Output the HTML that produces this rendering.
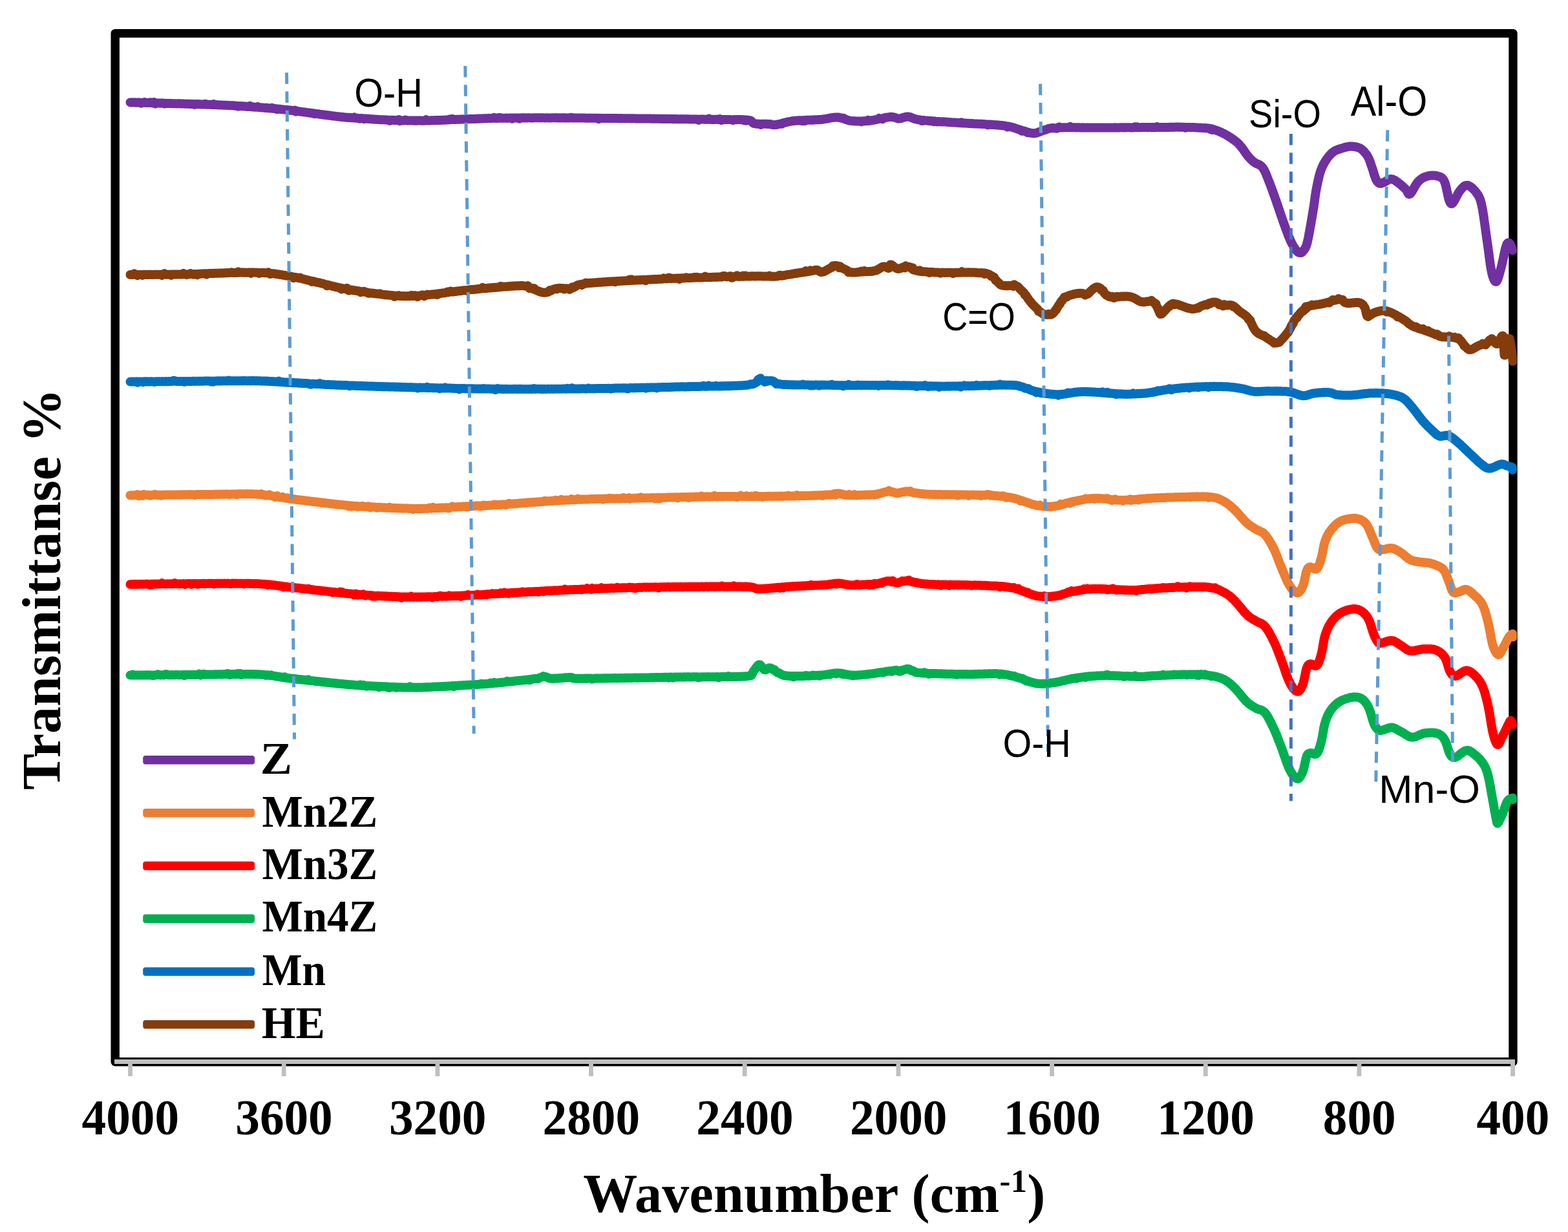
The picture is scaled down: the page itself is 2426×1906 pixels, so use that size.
<!DOCTYPE html>
<html lang="en">
<head>
<meta charset="utf-8">
<title>FTIR spectra</title>
<style>
html,body{margin:0;padding:0;background:#fff;}
body{width:2426px;height:1906px;overflow:hidden;}
svg{display:block;}
text{font-size:100px;fill:#000;}
.tk{font-family:'Liberation Serif','DejaVu Serif',serif;font-weight:bold;text-anchor:middle;}
.ax{font-family:'Liberation Serif','DejaVu Serif',serif;font-weight:bold;}
.lg{font-family:'Liberation Serif','DejaVu Serif',serif;font-weight:bold;}
.an{font-family:'Liberation Sans','DejaVu Sans',sans-serif;}
.cv{fill:none;stroke-width:14;stroke-linecap:round;stroke-linejoin:round;}
.ds{fill:none;stroke:#5b9bd5;stroke-width:5;stroke-dasharray:17.5 11.67;}
</style>
</head>
<body>
<svg width="2426" height="1906" viewBox="0 0 2426 1906">
<rect x="0" y="0" width="2426" height="1906" fill="#fff"/>
<rect x="178.2" y="51.6" width="2162.8" height="1591.2" fill="none" stroke="#000" stroke-width="13.4" stroke-linejoin="round"/>
<g stroke="#bfbfbf" stroke-width="6.8" fill="none">
<path d="M177 1642.5H2344"/>
<path d="M201.5 1642.5V1665M439.2 1642.5V1665M676.9 1642.5V1665M914.5 1642.5V1665M1152.2 1642.5V1665M1389.9 1642.5V1665M1627.6 1642.5V1665M1865.3 1642.5V1665M2102.9 1642.5V1665M2340.6 1642.5V1665"/>
</g>
<g class="tk">
<text transform="matrix(0.7525 0 0 0.775 201.8 1755)">4000</text>
<text transform="matrix(0.7525 0 0 0.775 439.5 1755)">3600</text>
<text transform="matrix(0.7525 0 0 0.775 677.2 1755)">3200</text>
<text transform="matrix(0.7525 0 0 0.775 914.8 1755)">2800</text>
<text transform="matrix(0.7525 0 0 0.775 1152.5 1755)">2400</text>
<text transform="matrix(0.7525 0 0 0.775 1390.2 1755)">2000</text>
<text transform="matrix(0.7525 0 0 0.775 1627.9 1755)">1600</text>
<text transform="matrix(0.7525 0 0 0.775 1865.6 1755)">1200</text>
<text transform="matrix(0.7525 0 0 0.775 2103.2 1755)">800</text>
<text transform="matrix(0.7525 0 0 0.775 2340.9 1755)">400</text>
</g>
<text class="ax" x="902.2" y="1874.5" style="font-size:84px" textLength="715" lengthAdjust="spacing">Wavenumber (cm<tspan style="font-size:50.4px" dy="-30.2">-1</tspan><tspan dy="30.2">)</tspan></text>
<text class="ax" transform="translate(92.6 1222) rotate(-90)" style="font-size:84px" textLength="621" lengthAdjust="spacing">Transmittanse %</text>
<clipPath id="plot"><rect x="0" y="0" width="2346.8" height="1906"/></clipPath>
<g clip-path="url(#plot)">
<path class="cv" stroke="#7030a0" d="M201.5 158.4L202.4 158.4 203.4 158.4 204.4 158.5 205.5 158.6 206.7 158.5 207.9 158.6 209.2 158.5 210.6 158.7 212.1 158.7 213.5 158.6 215.1 158.6 216.7 158.7 218.3 159.7 220 158.8 221.7 158.9 223.5 158 225.3 159.1 227.1 159.1 228.9 159.1 230.8 159.1 232.7 158.3 234.6 159.2 236.6 159.4 238.5 158.1 240.5 160.7 242.5 159.4 244.5 159.6 246.5 159.5 248.5 159.7 250.4 159.6 252.4 159.6 254.4 160.6 256.3 159.8 258.3 159.9 260.2 160 262.1 160 264 160 265.9 160.2 267.7 160.2 269.5 160.2 271.3 160.3 273 160.4 274.7 160.3 276.3 160.3 277.9 160.3 279.5 160.5 281 160.5 283 160.5 284.9 160.6 286.8 160.8 288.7 160.6 290.6 160.8 292.4 160.7 294.2 161 296 161 297.8 161 299.5 160.9 301.2 161.9 303 161.1 304.7 161.2 306.3 161.1 308 161.2 309.7 161.3 311.3 161.4 312.9 161.5 314.6 161.3 316.2 161.5 317.8 160.7 319.4 161.7 321 161.6 322.6 161.7 324.1 161.8 325.7 161.8 327.3 161.9 328.9 161.9 330.5 161 332 162 333.6 162 335.2 162.2 336.8 162.3 338.4 162.4 340 162.4 341.8 162.6 343.5 162.5 345.2 162.7 347 162.8 348.7 162.8 350.4 162.8 352.1 163.1 353.8 163.1 355.5 163.2 357.2 163.2 358.9 163.3 360.6 163.3 362.2 163.5 363.9 163.7 365.6 163.8 367.2 163.8 368.9 164.7 370.5 164.1 372.2 164.1 373.8 164.3 375.5 164.3 377.1 164.5 378.7 164.6 380.4 164.6 382 164.9 383.6 164.8 385.3 165.1 386.9 163.9 388.5 165.2 390.1 165.3 391.8 165.5 393.4 165.6 395.1 165.8 396.8 165.8 398.5 165.1 400.1 166.1 401.7 166.2 403.3 166.3 404.9 166.4 406.4 166.6 408 166.7 409.5 166.9 411.1 166.8 412.6 167 414.2 167 415.7 167.3 417.3 167.4 418.9 167.5 420.5 166.8 422.1 167.8 423.7 168 425.4 168 427 168.3 428.8 169.2 430.5 168.6 432.3 168.7 434.1 169 436 169.2 437.9 169.4 439.9 169.6 441.9 169.8 444 169.9 445.4 170.3 446.8 170.3 448.3 170.5 449.8 170.8 451.4 170.8 452.9 171.1 454.5 171.3 456.2 170.5 457.8 172.8 459.5 171.9 461.2 172.2 462.9 172.4 464.7 172.7 466.4 172.9 468.2 173.1 470 173.4 471.8 173.5 473.6 173.9 475.4 174.1 477.2 174.4 479 174.5 480.8 174.8 482.7 175.1 484.5 175.2 486.3 176.3 488.1 175.8 489.9 176.1 491.7 176.3 493.5 176.5 495.2 176.8 497 177.1 498.7 177.3 500.4 177.5 502.1 177.8 503.8 177.9 505.4 178.2 507 178.3 508.6 178.5 510.2 178.7 511.7 178.9 513.2 179.2 514.6 179.4 516 179.5 517.4 179.6 518.7 179.8 520 180 522.4 180.2 524.6 180.5 526.7 180.7 528.8 181 530.7 181.1 532.5 181.4 534.3 181.4 536 181.7 537.6 181.9 539.2 181.8 540.8 182 542.2 182 543.7 182.2 545.2 182.2 546.6 182.4 548 181.4 549.4 182.6 550.8 182.7 552.3 182.7 553.8 182.9 555.2 182.9 556.8 183.8 558.4 183 560 183.3 561.7 183.2 563.3 184.2 564.9 183.5 566.5 183.6 568.1 183.7 569.6 183.8 571.2 184 572.7 184.1 574.3 184.2 575.9 184.4 577.4 184.3 579 184.6 580.6 184.7 582.2 184.7 583.8 184.8 585.5 184.9 587.2 185.1 588.9 185.2 590.6 185.2 592.4 185.3 594.2 185.3 596.1 185.4 598 185.5 600 185.7 601.5 185.7 603 187 604.5 185.7 606 185.8 607.5 185.8 609.1 185.9 610.7 186 612.3 185.9 613.9 186.1 615.5 186.1 617.2 185.1 618.8 187.1 620.5 186.3 622.2 186.4 623.9 186.5 625.6 186.4 627.3 185.5 629 186.4 630.8 186.6 632.6 186.5 634.3 186.5 636.1 186.5 637.9 186.6 639.7 186.5 641.5 186.7 643.3 186.5 645.1 186.7 646.9 186.6 648.7 186.5 650.5 186.6 652.3 186.7 654.2 186.7 656 186.7 657.6 186.6 659.1 185.3 660.7 186.5 662.4 186.6 664 186.4 665.7 186.4 667.3 186.3 669 186.2 670.7 186.3 672.4 186.2 674.1 186.1 675.8 186.1 677.6 186.2 679.3 185.9 681.1 186 682.8 185.9 684.5 185.7 686.3 185.7 688 185.7 689.8 185.5 691.5 185.6 693.3 185.5 695 184.6 696.7 185.2 698.4 184.2 700.1 183.9 701.8 185 703.5 185 705.2 184.9 706.8 184.7 708.5 184.8 710.1 184.8 711.7 184.7 713.3 184.6 714.8 184.4 716.3 184.5 717.9 184.4 719.3 184.4 720.8 184.3 722.7 184.2 724.5 184.2 726.3 184.1 728 184 729.6 183.9 731.2 184 732.7 183.9 734.2 183.9 735.7 183.9 737.1 183.8 738.5 183.8 740 183.6 741.4 183.7 742.8 183.5 744.2 183.6 745.6 183.4 747.1 183.4 748.6 183.2 750.1 183.2 751.6 183.3 753.2 183.3 754.9 183.1 756.6 183.1 758.4 183 760.3 183.1 762.2 182.9 764.2 181.9 766.4 183 768.6 182.8 769.9 182.9 771.3 182 772.6 182.8 773.9 182.1 775.3 182.8 776.7 182.8 778 182.7 779.4 182.7 780.8 182.7 782.2 182.7 783.7 182.6 785.1 182.6 786.5 182.8 788 182.5 789.5 182.5 790.9 182.6 792.4 183.7 794 182.5 795.5 182.4 797 182.6 798.6 182.4 800.2 182.5 801.8 182.6 803.4 183.6 805 182.4 806.7 182.5 808.3 182.3 810 182.5 811.7 182.3 813.4 182.4 815.2 182.4 817 182.3 818.8 182.3 820.6 182.4 822.4 182.4 824.3 182.4 826.1 182.3 828.1 182.3 830 182.2 831.9 182.3 833.9 182.2 835.9 182.4 838 182.3 840 182.2 842.1 182.4 844.2 182.4 846.4 182.2 848.6 182.4 850.8 182.4 853 182.4 854.4 182.2 855.7 182.3 857.2 182.2 858.6 182.2 860 182.4 861.5 182.2 863 182.4 864.5 182.4 866 182.3 867.5 182.4 869 182.3 870.6 182.3 872.2 182.5 873.8 182.3 875.4 182.4 877 182.5 878.6 182.4 880.3 182.6 881.9 182.3 883.6 181.7 885.3 182.5 886.9 182.6 888.6 182.4 890.4 182.6 892.1 182.5 893.8 182.4 895.6 182.6 897.3 182.6 899.1 182.5 900.8 182.5 902.6 182.6 904.4 182.6 906.1 182.7 907.9 182.8 909.7 182.7 911.5 182.8 913.3 182.6 915.1 182.8 917 182.7 918.8 182.8 920.6 182.7 922.4 182.7 924.2 182.8 926 184.1 927.9 182.8 929.7 182.9 931.5 183 933.3 182.9 935.2 182.9 937 182.9 938.8 182.9 940.6 182.9 942.4 183 944.3 182.9 946.1 183 947.9 183.1 949.7 183.1 951.5 183 953.3 183.1 955 183 956.8 183.2 958.6 183.2 960.4 183 962.1 183.2 963.9 183.2 965.6 183.2 967.3 183.3 969.1 183.3 970.8 183.3 972.5 183.3 974.2 183.2 975.8 183.2 977.5 183.4 979.2 183.3 980.8 183.2 982.5 183.4 984.1 183.4 985.7 183.4 987.3 183.4 988.9 183.5 990.4 183.6 992 183.5 993.5 183.6 995.4 183.6 997.3 183.5 999.2 183.4 1001.1 183.5 1002.9 183.6 1004.8 183.6 1006.7 183.5 1008.6 183.7 1010.5 183.7 1012.4 183.6 1014.3 183.8 1016.2 183.8 1018 183.7 1019.9 183.8 1021.8 183.9 1023.6 183.7 1025.5 184 1027.4 183.9 1029.2 183.8 1031.1 183.9 1032.9 183.9 1034.8 183.9 1036.6 184.1 1038.4 184 1040.2 184 1042 184.2 1043.9 184 1045.6 184.1 1047.4 184.2 1049.2 184.3 1051 184.3 1052.8 184.2 1054.5 184.1 1056.2 184.2 1058 184.2 1059.7 184.2 1061.4 184.3 1063.1 184.3 1064.8 184.2 1066.5 184.4 1068.1 184.4 1069.8 184.5 1071.4 184.4 1073.1 184.4 1074.7 184.4 1076.3 184.6 1077.8 184.4 1079.4 184.6 1081 185.8 1082.5 184.6 1084 184.7 1085.5 184.6 1087 184.6 1088.5 184.6 1090 184.7 1091.4 184.8 1092.8 184.8 1094.2 184.8 1095.6 184.7 1097 183.6 1098.3 184.8 1099.7 184.9 1101 184.8 1102.3 184.9 1103.5 184.8 1104.8 185 1106 184.8 1108.7 184.8 1111.2 185 1113.7 184 1116.1 186 1118.5 185 1120.7 185.1 1122.9 185 1124.9 184.9 1126.9 184.9 1128.9 185.1 1130.7 185.1 1132.6 185.8 1134.3 185.9 1136 184.9 1137.6 185.1 1139.1 185.2 1140.6 185.1 1142.1 185.1 1143.5 185.1 1144.9 185.1 1146.2 185.2 1147.5 185.1 1148.7 185.3 1149.9 185.2 1151.1 185.4 1152.2 186.6 1153.3 185.3 1154.4 186.7 1155.5 185.7 1156.5 185.6 1159.7 186.1 1161.8 186.9 1163.1 187.7 1163.9 189.2 1164.4 189.4 1165 190.1 1166 190.7 1167.7 191.2 1169 191.4 1170.4 191.7 1172 191.6 1173.6 191.8 1175.3 192 1177.1 193 1178.9 191.8 1180.7 191.9 1182.5 191.7 1184.2 191.8 1185.8 191.8 1187.4 191.9 1188.8 191.9 1190 192 1192.2 192.1 1193.6 192.6 1194.6 192.8 1195.8 193.1 1197.4 193.3 1200 192.9 1201.2 192.9 1202.4 192.6 1203.7 192.4 1205.1 191.9 1206.5 191.8 1208 191.3 1209.6 191.8 1211.2 190.5 1212.9 190 1214.6 189.6 1216.4 189.2 1218.2 188.8 1220.1 188.3 1222.1 187.9 1224 187.6 1226.1 187.2 1228.1 187 1229.5 187 1231 186.7 1232.6 186.6 1234.2 186.5 1235.9 186.5 1237.6 186.2 1239.4 186.2 1241.1 187.1 1243 186.1 1244.8 187.1 1246.6 185.9 1248.5 185.8 1250.3 185.8 1252.1 185.8 1254 185.7 1255.8 185.6 1257.6 185.7 1259.3 185.5 1261 185.3 1262.7 185.3 1264.4 185.2 1265.9 185.1 1267.5 185.2 1268.9 184.9 1270.3 185 1272.4 184.6 1274.3 184.5 1276.1 184.1 1277.9 183.9 1279.6 183.6 1281.2 183.2 1282.7 183 1284.2 182.7 1285.6 182.4 1287.1 182.1 1288.5 181.9 1289.9 181.8 1291.3 181.7 1292.7 181.5 1294.1 181.6 1295.6 181.6 1297.3 181.5 1298.9 182 1300.5 182.2 1302 182.6 1303.6 183.2 1305.1 182.7 1306.6 184.1 1308.2 184.7 1309.7 185.2 1311.3 185.8 1312.9 186.2 1314.5 186.6 1316.2 186.9 1318 187.1 1319.5 187.3 1321.1 187.3 1322.6 187.3 1324.3 187.5 1325.9 187.5 1327.6 187.5 1329.3 187.5 1331 187.5 1332.7 188.2 1334.4 187.5 1336.1 187.3 1337.8 187.4 1339.5 187.2 1341.2 186.9 1342.9 185.8 1344.5 186.9 1346.1 186.5 1347.8 186.4 1349.6 186.1 1351.3 185.9 1353.1 185.5 1354.9 185.2 1356.7 184.9 1358.4 184.4 1360.2 182.9 1361.9 183.8 1363.5 183.4 1365.2 184.2 1366.7 183.6 1368.2 182.4 1369.5 182.1 1370.8 181.8 1372 181.7 1374.6 181.3 1376.5 181.1 1378.1 180.8 1379.3 180.9 1380.6 181 1382 181.2 1383.6 181.6 1385.1 182 1386.6 182.6 1388.1 183 1389.6 183.5 1391 183.6 1392.7 183.3 1394.3 183.1 1395.9 182.4 1397.4 181.9 1399 181.5 1400.4 181.2 1401.5 180.7 1402.7 180.7 1404.3 180.5 1406.5 180.8 1407.5 181 1408.5 181.2 1409.4 181.7 1410.4 182.1 1411.4 182.6 1412.6 182.9 1413.9 183.5 1415.5 183.9 1417.3 184.4 1419.4 184.8 1421.9 185.3 1424.8 185.6 1425.9 186.9 1427.1 187 1428.3 186 1429.6 186.2 1430.9 186.4 1432.3 186.4 1433.7 186.6 1435.1 186.7 1436.6 186.9 1438.1 187 1439.7 187.2 1441.3 187.1 1442.9 187.3 1444.5 188.2 1446.2 187.5 1447.9 187.8 1449.7 188.5 1451.4 188 1453.2 188.1 1455 188.3 1456.8 188.4 1458.6 188.3 1460.4 188.5 1462.3 188.6 1464.1 188.7 1466 188.9 1467.9 189 1469.8 189.2 1471.6 189.3 1473.5 189.4 1475.4 189.5 1477.3 189.6 1479.1 189.7 1481 189.9 1482.5 189.9 1484.1 190 1485.7 190.2 1487.3 189.4 1489 190.4 1490.7 190.4 1492.4 190.5 1494.1 190.6 1495.9 190.7 1497.7 190.8 1499.5 191 1501.3 191 1503.1 191.2 1505 191.1 1506.8 191.4 1508.6 191.4 1510.5 191.5 1512.4 191.6 1514.2 191.8 1516.1 191.8 1517.9 191.8 1519.7 192 1521.6 192.1 1523.4 192.1 1525.2 192.3 1527 192.4 1528.7 193.4 1530.5 192.6 1532.2 192.6 1533.9 192.9 1535.5 192.8 1537.2 193.1 1538.8 193.2 1540.3 193.3 1541.9 193.3 1543.3 193.5 1544.8 193.6 1546.2 193.7 1547.5 193.7 1548.8 194 1550.1 194.1 1551.3 194.2 1553.9 194.5 1556.3 194.9 1558.5 196.4 1560.5 195.6 1562.4 196.1 1564.1 196.4 1565.7 196.9 1567.1 197.2 1568.5 197.5 1569.8 198.2 1571 198.4 1572.2 198.9 1573.4 199.4 1574.5 199.6 1575.7 200 1576.9 200.6 1578.1 200.8 1579.4 201.2 1581.3 202.8 1583.2 202.4 1585 202.8 1586.7 203.4 1588.3 204 1590 205.2 1591.5 205 1593.1 205.3 1594.6 205.7 1596.1 205.9 1597.6 206.1 1599.1 206.2 1600.7 206.2 1602.3 205.9 1603.8 205.6 1605.3 205.1 1606.8 204.5 1608.3 204 1609.8 203.4 1611.3 202.7 1612.8 202.1 1614.4 201.7 1616 201.1 1617.4 200.8 1618.5 200.6 1619.5 200.1 1620.5 199.7 1621.4 199.3 1622.5 199 1623.7 198.7 1625.2 198.5 1627.1 198.1 1629.4 198 1632.2 198.4 1635.6 198.8 1636.7 197.5 1637.8 197.3 1639 196.4 1640.2 197.4 1641.5 197.4 1642.8 197.4 1644.1 197.4 1645.5 197.3 1646.9 197.2 1648.3 197.2 1649.8 197.2 1651.3 197.2 1652.8 197.2 1654.4 197.3 1656 196 1657.6 197.3 1659.3 197.3 1660.9 197.3 1662.6 197.3 1664.4 197.3 1666.1 197.4 1667.9 197.2 1669.6 197.3 1671.4 197.4 1673.3 197.5 1675.1 197.3 1677 197.4 1678.8 197.4 1680.7 197.4 1682.6 197.4 1684.5 197.5 1686.4 197.4 1688.3 197.6 1690.3 197.5 1692.2 197.5 1694.2 197.5 1696.1 197.6 1698.1 197.6 1700 197.6 1702 197.6 1703.9 197.5 1705.9 197.5 1707.4 197.6 1708.9 197.6 1710.5 197.5 1712 197.4 1713.7 197.5 1715.3 197.6 1717 197.6 1718.7 197.4 1720.4 197.5 1722.2 197.5 1723.9 197.5 1725.7 197.3 1727.5 197.4 1729.3 197.4 1731.2 197.4 1733 197.3 1734.9 197.3 1736.8 197.4 1738.7 197.2 1740.5 197.5 1742.4 197.3 1744.3 197.3 1746.2 197.2 1748.1 197.3 1750 197.4 1751.9 197.4 1753.8 197.3 1755.7 196.3 1757.6 197.3 1759.5 196.4 1761.3 197.3 1763.2 197.3 1765 197.1 1766.8 197.1 1768.7 197.1 1770.4 197.1 1772.2 197.1 1774 197.1 1775.7 197.2 1777.4 197 1779.1 197.1 1780.7 197.2 1782.3 197 1783.9 197.2 1785.5 197.1 1787 197.2 1788.5 197 1789.9 196.1 1791.3 197 1792.7 197 1794 196.9 1795.3 197.1 1796.6 197 1797.8 196.9 1798.9 197.1 1800 197.1 1803.5 197 1806.4 197 1808.9 197 1811 196.8 1812.7 196.8 1814.1 196.9 1815.3 196.8 1816.4 196.8 1817.3 196.8 1818.2 196.7 1819.1 196.6 1820.1 196.6 1821.2 196.6 1822.5 196.7 1824.1 196.6 1826 196.7 1827.4 196.7 1828.9 196.7 1830.5 196.8 1832.2 196.8 1833.9 197.8 1835.6 196.9 1837.4 197 1839.3 197.1 1841.1 197.1 1843 197.2 1844.9 197.1 1846.8 197.1 1848.6 197.3 1850.5 197.3 1852.3 197.6 1854.1 197.6 1855.8 197.7 1857.5 197.6 1859.1 197.8 1860.7 197.9 1862.1 198 1863.5 198.1 1864.8 198.2 1866 198.1 1868.7 198.5 1870.8 198.6 1872.6 200 1874 199.2 1875.1 199.4 1876.2 201.1 1877.3 200.2 1878.5 200.6 1880 201 1881.4 201.5 1882.9 202.1 1884.3 202.6 1885.8 203.1 1887.3 203.8 1888.8 204.4 1890.3 205.1 1891.8 205.9 1893.4 206.7 1895 207.4 1896.3 208.2 1897.6 209.1 1899 209.7 1900.5 210.8 1901.9 211.6 1903.4 212.5 1904.9 213.6 1906.3 214.5 1907.7 215.5 1909 216.5 1910.3 217.3 1911.5 218.3 1912.6 219.1 1914 220.4 1915.3 221.4 1916.5 222.6 1917.6 223.7 1918.5 225.1 1919.5 226.2 1920.4 227.2 1921.3 228.3 1922.2 229.6 1923.2 230.8 1924.1 232.1 1925 233.5 1925.9 234.8 1926.7 235.9 1927.6 237.1 1928.4 238.3 1929.3 239.6 1930.3 240.9 1931.4 242.1 1932.4 243.4 1933.5 244.5 1934.5 245.6 1935.5 246.6 1936.5 247.5 1937.8 248.8 1939.1 250 1940.4 250.8 1941.7 251.8 1943 252.6 1944.3 253.4 1945.7 253.7 1947 254.3 1948.4 254.9 1949.6 255.6 1950.8 256.5 1951.8 257.4 1952.9 258.5 1953.9 259.8 1955 261.4 1955.6 262.5 1956.2 263.6 1956.7 264.6 1957.3 265.7 1957.8 267 1958.5 268.3 1959.2 270.2 1959.9 272 1960.8 274.2 1961.3 275.3 1961.7 276.5 1962.2 277.8 1962.7 278.9 1963.2 280.4 1963.8 281.7 1964.3 283.1 1964.9 284.6 1965.5 286.1 1966.1 287.9 1966.7 289.3 1967.3 291.1 1967.9 292.8 1968.6 294.5 1969.2 296.3 1969.8 297.9 1970.5 299.9 1971.1 301.6 1971.8 303.4 1972.3 304.7 1972.8 306.3 1973.3 307.7 1973.8 309.1 1974.4 310.6 1974.9 312.4 1975.5 314 1976 315.7 1976.6 317.2 1977.2 319 1977.8 320.6 1978.3 322.3 1978.9 323.9 1979.5 325.7 1980.1 327.4 1980.6 329 1981.2 330.7 1981.7 332.4 1982.3 333.9 1982.8 335.5 1983.4 336.9 1983.9 338.4 1984.4 339.9 1984.9 341.4 1985.3 342.7 1985.8 343.9 1986.5 346 1987.2 347.9 1987.9 349.7 1988.5 351.5 1989.1 353.3 1989.7 355 1990.3 356.5 1990.9 358.1 1991.5 359.5 1992 360.9 1992.5 362.3 1993 363.7 1993.5 364.9 1994 366.2 1994.5 367.4 1995 368.5 1995.9 370.6 1996.7 372.5 1997.4 374 1998.1 375.4 1998.8 376.7 1999.5 377.9 2000.2 379.2 2000.9 380.5 2001.8 381.9 2002.7 383.2 2003.6 384.5 2004.5 385.9 2005.3 386.9 2006.2 388 2007 388.8 2008.3 389.9 2009.6 390.8 2010.8 391.1 2012 391.1 2013.2 391 2014.5 390.2 2015.7 389 2017 387.6 2017.6 386.6 2018.3 385.7 2018.9 384.8 2019.6 383.7 2020.2 382.2 2020.9 380.7 2021.5 378.9 2022.2 376.6 2022.5 375.6 2022.8 374.3 2023.1 373 2023.4 371.6 2023.8 370 2024.1 368.7 2024.4 367 2024.7 365.4 2025 363.8 2025.3 362 2025.6 360.2 2026 358.5 2026.3 356.7 2026.6 355.1 2026.9 353.3 2027.2 351.6 2027.5 350 2027.8 348.4 2028.1 346.7 2028.4 345.3 2028.6 343.5 2028.9 341.9 2029.2 340.3 2029.5 338.8 2029.8 337 2030.1 335.3 2030.3 333.6 2030.6 332.1 2030.9 330.3 2031.2 328.7 2031.4 326.9 2031.7 325.4 2032 323.8 2032.2 322.2 2032.5 320.6 2032.8 318.8 2033 317 2033.3 315.6 2033.5 313.7 2033.7 312.2 2034 310.5 2034.2 308.8 2034.4 307 2034.6 305.6 2034.9 303.7 2035.1 302.3 2035.3 300.4 2035.6 298.9 2035.8 297.4 2036.1 295.7 2036.4 294.1 2036.7 292.5 2037 290.7 2037.3 289.1 2037.7 287.4 2038 285.8 2038.3 284.1 2038.7 282.4 2039 280.9 2039.4 279.2 2039.8 277.4 2040.2 275.9 2040.5 274.3 2040.9 272.8 2041.3 271 2041.7 269.6 2042.1 268.3 2042.6 266.8 2043 265.4 2043.6 263.7 2044.2 262 2044.9 260.4 2045.5 258.8 2046.2 257.4 2046.9 256 2047.6 254.4 2048.3 253.2 2049 251.9 2049.8 250.5 2050.6 249.3 2051.4 248 2052.3 246.6 2053.2 245.4 2054.2 244 2055.2 242.7 2056.2 241.4 2057.2 240.4 2058.3 239.2 2059.3 238 2060.4 236.9 2061.6 236.1 2062.7 235.2 2064.1 234.2 2065.6 233.3 2067.2 232.5 2068.7 231.9 2070.3 231.3 2071.9 230.8 2073.5 230.3 2075.1 229.8 2076.7 229.2 2078.3 228.8 2079.8 228.3 2081.4 227.8 2083 227.5 2084.5 227.1 2086.1 226.9 2087.7 226.6 2089.2 226.5 2090.8 226.5 2092.4 226.6 2094 226.8 2095.6 226.9 2097.2 227.2 2098.8 227.5 2100.3 227.8 2101.9 228.5 2103.4 228.9 2104.8 229.7 2106.1 230.6 2107.3 231.5 2108.5 232.6 2109.7 233.7 2110.9 235.1 2112 236.3 2113.1 237.7 2114.2 239 2115.2 240.5 2116.1 242 2116.8 243.3 2117.5 244.7 2118.2 246 2118.8 247.6 2119.4 249.1 2120 250.7 2120.5 252.2 2121 253.9 2121.5 255.4 2122.1 257.1 2122.6 258.6 2123.1 260.1 2123.7 261.6 2124.2 263.4 2124.7 265 2125.2 266.8 2125.7 268.5 2126.2 270 2126.7 271.5 2127.2 273 2127.7 274.5 2128.2 275.8 2128.7 277.1 2129.6 278.7 2130.5 280.3 2131.4 281.4 2132.3 282.3 2133.3 283 2134.3 283.7 2135.5 283.9 2136.8 283.8 2138.1 283.4 2139.6 282.6 2141.3 282 2142.5 281.5 2143.8 280.7 2145.2 279.9 2146.7 278.9 2148.2 278.2 2149.7 277.7 2151.2 277.1 2152.6 277.1 2154 277.2 2155.4 277.7 2156.8 278.4 2158.2 279 2159.6 279.9 2161 281 2162.4 281.9 2163.8 283.1 2165.1 283.9 2166.4 285.1 2167.7 286.2 2169.1 287.4 2170.4 288.6 2171.7 289.6 2172.9 290.8 2174.1 291.9 2175.1 293.1 2176.4 294.7 2177.4 296.7 2178.2 298.3 2179.1 300 2180.1 300.5 2181.5 300.1 2182.2 299.6 2183 298.7 2183.8 297.7 2184.6 296.2 2185.5 294.9 2186.4 293.3 2187.4 291.6 2188.3 289.9 2189.3 288.2 2190.3 286.5 2191.3 284.8 2192.3 283.5 2193.2 282.1 2194.2 281 2195.5 279.7 2196.9 278.5 2198.2 277.4 2199.6 276.4 2200.9 275.5 2202.3 274.8 2203.7 274.2 2205.2 273.6 2206.7 273.1 2208.2 272.6 2209.8 272.2 2211.5 271.8 2213.3 271.6 2215.1 271.6 2216.9 271.5 2218.7 271.6 2220.5 271.6 2222.1 272 2223.7 272.3 2225.1 272.6 2226.7 273.1 2228.1 273.6 2229.4 274.2 2230.6 275 2231.7 276 2232.8 277.3 2233.9 278.9 2234.9 281.1 2235.4 282.1 2235.8 283.4 2236.3 284.8 2236.7 286.5 2237.1 288 2237.5 289.8 2237.9 291.5 2238.3 293.3 2238.7 295.4 2239.1 297.1 2239.5 298.9 2239.8 300.7 2240.2 302.4 2240.6 304.2 2240.9 305.7 2241.3 306.9 2241.6 308.2 2242 309.3 2243.1 312.2 2244.1 314.1 2245 315 2246.1 315.2 2247.6 314.3 2248.2 313.6 2248.9 312.6 2249.6 311.5 2250.4 310.2 2251.2 308.7 2252 307.2 2252.8 305.6 2253.7 303.7 2254.6 302.1 2255.4 300.4 2256.3 298.8 2257.1 297.5 2258 296.2 2258.8 295.2 2260 293.5 2261.3 292.2 2262.5 290.7 2263.7 289.6 2264.9 288.4 2266.1 287.7 2267.4 287 2268.7 286.7 2270.1 286.7 2271.3 286.8 2272.6 287.5 2273.9 288 2275.2 289 2276.6 289.9 2278 291.1 2279.3 292.4 2280.6 293.7 2281.9 295.1 2283 296.4 2284.1 297.9 2284.9 299.1 2285.7 300 2286.4 301.1 2287.1 302.1 2287.7 303.1 2288.3 304.3 2288.9 305.6 2289.5 307.1 2290.1 308.6 2290.7 310.3 2291.3 312.6 2291.9 314.8 2292.5 317.6 2292.7 318.9 2293 320 2293.3 321.2 2293.5 322.5 2293.8 324 2294 325.4 2294.3 326.9 2294.5 328.5 2294.8 330.1 2295 331.6 2295.3 333.4 2295.6 335 2295.8 336.9 2296.1 338.5 2296.3 340.3 2296.6 342.2 2296.8 344 2297.1 345.9 2297.3 347.5 2297.6 349.4 2297.9 351.4 2298.1 353.1 2298.4 354.9 2298.6 356.8 2298.9 358.6 2299.1 360.4 2299.3 362.1 2299.6 363.8 2299.8 365.7 2300.1 367.4 2300.3 369 2300.5 370.8 2300.8 372.1 2301 373.8 2301.3 375.6 2301.5 377.4 2301.8 379.4 2302 381.2 2302.3 382.9 2302.5 384.8 2302.8 386.7 2303 388.5 2303.3 390.4 2303.5 392.1 2303.8 394.2 2304 395.9 2304.2 397.8 2304.5 399.5 2304.7 401.1 2304.9 403 2305.2 404.6 2305.4 406.4 2305.6 408.1 2305.9 409.4 2306.1 411 2306.3 412.6 2306.6 414 2306.8 415.4 2307 416.8 2307.3 418 2307.5 419.3 2307.8 420.6 2308 421.7 2308.7 424.5 2309.4 427.2 2310.1 429.3 2310.8 431.2 2311.5 432.8 2312.2 434 2312.9 435 2313.6 435.5 2314.3 435.8 2315 435.7 2315.5 435.3 2316.1 434.7 2316.6 433.6 2317.2 432.5 2317.7 430.9 2318.2 429.5 2318.8 427.8 2319.3 426 2319.8 424 2320.4 422 2320.9 420 2321.5 418 2322 416.1 2322.4 414.5 2322.8 413.1 2323.2 411.5 2323.6 409.8 2324 408.1 2324.4 406.3 2324.8 404.4 2325.2 402.5 2325.6 400.8 2326 398.9 2326.4 397 2326.8 395.2 2327.1 393.5 2327.5 391.8 2327.8 390.2 2328.2 388.9 2328.5 387.4 2328.8 386.1 2329.1 385.1 2329.9 382.2 2330.5 380.2 2331 378.7 2331.5 377.5 2332 376.9 2332.5 376.2 2333.6 375.4 2334.8 375.7 2336 377.1 2336.6 378 2337.3 379.6 2338.1 381.2 2338.8 383.1 2339.5 384.8 2340.1 386.3 2340.5 387.3"/>
<path class="cv" stroke="#ed7d31" d="M201.5 766.2L202.4 766.2 203.3 766.2 204.3 766.1 205.3 766.2 206.4 766.2 207.5 766.1 208.7 766 209.9 766 211.1 766.1 212.4 765.1 213.8 766.1 215.1 767.2 216.6 766.1 218 766.1 219.5 766.1 221 766.8 222.6 765 224.2 765.8 225.8 765.8 227.5 765.8 229.2 766 230.9 765.8 232.6 766.8 234.4 765.9 236.2 765.9 238 765.7 239.8 764.7 241.7 765.8 243.6 765.9 245.5 765.8 247.4 765.8 249.3 766.7 251.2 765.8 253.2 765.6 255.2 765.7 257.2 765.5 259.1 765.6 261.1 765.5 263.2 765.6 265.2 765.5 267.2 765.4 269.2 765.4 271.2 765.4 273.3 765.4 275.3 765.5 277.3 765.4 279.4 765.3 281.4 765.4 283.4 765.3 285.4 765.2 287.4 765.3 289.4 765.2 291.4 765.2 293.4 765.1 295.4 765.2 297.3 765.2 299.3 765.3 301.2 766 303.1 765.2 305 765 306.9 765.1 308.7 765 310.6 765.1 312.4 765 314.2 765.1 315.9 765 317.7 765 319.4 764.9 321 764.9 322.7 764.9 324.3 765 325.9 764.9 327.5 764.9 329 764.9 330.5 764.9 331.9 764.7 333.3 764.9 334.7 764.7 336.1 764.8 337.3 764.9 338.6 764.8 341.2 764.7 343.8 764.6 346.2 764.7 348.6 764.6 350.9 764.6 353 764.6 355.2 765.3 357.2 764.5 359.1 764.6 361 764.5 362.9 764.5 364.6 764.4 366.4 765.3 368 764.3 369.6 764.3 371.2 764.3 372.7 764.3 374.2 764.2 375.7 764.4 377.1 764.3 378.5 764.3 379.9 764.2 381.3 764.3 382.6 764.1 383.9 764.2 385.3 764.3 386.6 764.2 387.9 764.3 389.3 764.3 390.6 764.3 391.9 764.4 393.3 764.4 394.7 764.4 396.1 764.6 397.5 764.5 399 764.8 400.5 764.8 402.3 765 404.1 764.1 405.9 765.2 407.5 765.4 409.2 765.6 410.8 766.4 412.4 766 413.9 766.1 415.4 766.4 416.9 765.5 418.4 766.7 419.9 767.1 421.4 767.3 422.9 767.6 424.3 767.8 425.8 769 427.4 768.2 428.9 767.3 430.5 768.9 432.1 769 433.7 769.3 435.4 769.6 437.1 768.8 438.9 770.1 440.8 770.4 442.7 770.8 444.6 770.3 446.7 771.2 448.8 771.6 451 772 452.4 772 453.8 772.2 455.2 772.3 456.7 772.5 458.2 772.9 459.7 773 461.3 773.3 462.9 773.5 464.5 773.5 466.2 773.8 467.8 774 469.5 774.1 471.2 774.3 473 774.6 474.7 774.8 476.5 775 478.3 775.2 480.1 775.5 481.9 775.7 483.7 776 485.5 776.3 487.3 776.3 489.2 776.5 491 776.7 492.8 777.1 494.7 777.3 496.5 777.5 498.4 777.7 500.2 777.9 502 778 503.9 778.3 505.7 778.4 507.5 778.6 509.3 778.9 511.1 779.2 512.9 779.3 514.6 779.6 516.4 779.7 518.1 780 519.8 780.2 521.5 780.3 523.1 780.4 524.8 780.7 526.4 780.7 527.9 781 529.5 781.1 531 781.3 532.5 781.4 534 781.5 535.4 781.8 537.4 781.8 539.4 783.2 541.4 782.3 543.3 783.7 545.1 782.6 546.9 782.8 548.7 782.9 550.4 782.9 552.2 783 553.8 784 555.5 783.4 557.1 783.4 558.7 783.6 560.3 782.9 561.8 783.7 563.4 783.8 564.9 783.8 566.4 784.1 568 784 569.5 783.3 571 784.1 572.5 785.2 574 784.3 575.5 784.3 577 784.4 578.6 784.5 580.1 784.6 581.7 784.8 583.3 785.7 584.9 784.9 586.5 784.8 588.2 784.8 589.9 785.1 591.6 785.2 593.2 785.2 594.8 785.3 596.4 785.4 598 785.4 599.6 785.6 601.2 785.5 602.8 784.8 604.4 785.7 606 785.7 607.6 785.9 609.2 786 610.8 785.9 612.4 786.1 614.1 786.1 615.7 786.3 617.3 786.3 619 786.2 620.6 786.3 622.3 786.5 623.9 786.5 625.6 786.6 627.3 786.6 628.9 786.6 630.6 786.6 632.3 786.7 634 786.7 635.7 786.8 637.5 786.9 639.2 787.9 640.9 786.9 642.7 786.9 644.4 786.9 646.2 786.9 648 786.9 649.8 787 651.6 786.9 653.4 786.9 654.9 786.7 656.5 786.8 658.1 786.8 659.7 786.7 661.4 786.7 663 786.5 664.7 785.5 666.4 786.4 668.1 786.4 669.8 785 671.6 786.1 673.3 786.1 675.1 786 676.8 786 678.6 786 680.4 785.7 682.2 785.7 684 785.5 685.7 785.5 687.5 785.5 689.3 785.4 691.1 785.2 692.9 786.2 694.6 786.2 696.4 785 698.2 784.6 699.9 783.6 701.6 784.6 703.3 784.5 705 784.4 706.7 784.3 708.4 784.2 710 784.1 711.7 783.9 713.3 783.9 714.9 783.8 716.4 783.6 717.9 783.5 719.4 783.5 720.9 783.5 722.4 784.6 723.8 783.2 725.2 783.2 726.5 783.2 728.7 782.9 730.6 783 732.4 782.9 734.1 782.7 735.7 782.7 737.1 782.6 738.5 782.7 739.8 782.4 741 782.5 742.3 782.4 743.4 783.6 744.6 782.5 745.8 782.4 747 782.4 748.3 781.5 749.6 782.3 751 782.2 752.5 782.1 754.1 782 755.9 781.8 757.8 781.8 759.8 781.7 762 781.6 764.5 780.6 767.1 781.3 770 781 771.2 781 772.4 780.9 773.6 780.9 774.9 780.9 776.2 780.6 777.5 780.6 778.9 780.6 780.2 780.4 781.6 780.4 783.1 781.2 784.5 780 786 780.1 787.5 778.8 789 779.7 790.5 779.6 792.1 779.5 793.7 779.4 795.2 779.2 796.9 779.3 798.5 779 800.1 778.9 801.8 778.8 803.5 778.6 805.2 778.6 806.9 778.3 808.6 778.3 810.3 778.1 812.1 777.9 813.9 777.9 815.6 777.6 817.4 777.5 819.2 777.3 821 777.3 822.8 777.1 824.6 777.2 826.4 776.9 828.3 776.8 830.1 776.6 831.9 776.6 833.8 776.5 835.6 776.2 837.5 776.2 839.3 775.9 841.1 775.9 843 774.7 844.8 775.6 846.7 775.3 848.5 775.3 850.4 775.2 852.2 775.1 854.1 775 855.9 774.7 857.7 774.7 859.5 773.8 861.4 774.4 863.2 774.5 865 774.3 866.8 774 868.5 772.9 870.3 774 872.1 773.9 873.8 773.7 875.6 773.6 877.3 773.5 879 773.6 880.7 773.5 882.4 773.2 884.1 772.1 885.8 773.2 887.4 773.1 889.1 773 890.8 773 892.5 772.9 894.1 771.6 895.8 772.7 897.5 772.7 899.2 772.7 900.9 772.4 902.5 772.6 904.2 772.4 905.9 772.5 907.6 772.4 909.2 772.4 910.9 772.3 912.6 772.2 914.3 772.1 916 772 917.6 772 919.3 771.9 921 772 922.7 771.8 924.3 771.8 926 771.8 927.7 771.7 929.4 771.7 931.1 771.7 932.7 772.6 934.4 771.6 936.1 771.7 937.8 771.6 939.4 771.5 941.1 771.4 942.8 770.7 944.5 771.4 946.1 771.3 947.8 771.3 949.5 771.3 951.2 771.4 952.9 771.3 954.5 771.2 956.2 771.3 957.9 771.2 959.6 771.2 961.2 771.1 962.9 771.2 964.6 770 966.3 770.9 968 771 969.6 770.9 971.3 770.9 973 770.1 974.7 771.6 976.3 770.9 978 770.9 979.7 770.7 981.4 770.7 983.1 770.8 984.7 770.6 986.4 770.6 988.1 770.6 989.8 770.6 991.4 769.4 993.1 770.6 994.8 770.6 996.5 770.6 998.2 770.4 999.8 770.4 1001.5 770.3 1003.2 770.3 1004.9 770.4 1006.5 770.3 1008.2 770.1 1009.9 770.2 1011.6 770 1013.3 771.4 1014.9 770.1 1016.6 770.1 1018.3 771.2 1020 769.9 1021.6 771.1 1023.3 769.9 1025 769.9 1026.7 769.8 1028.3 769.8 1030 769.8 1031.7 769.6 1033.4 769.6 1035.1 769.6 1036.7 769.5 1038.4 769.5 1040.1 769.6 1041.8 769.5 1043.4 769.4 1045.1 769.3 1046.8 769.2 1048.5 770.4 1050.2 769.3 1051.8 769.3 1053.5 769.1 1055.2 769.2 1056.9 769.1 1058.5 768.9 1060.2 768.9 1061.9 768.9 1063.6 768.9 1065.3 770.1 1066.9 768.8 1068.6 768.8 1070.3 768.9 1072 768.8 1073.6 768.8 1075.3 768.6 1077 768.7 1078.7 768.6 1080.4 768.7 1082 768.5 1083.7 768.6 1085.4 767.5 1087.1 768.5 1088.7 768.5 1090.4 768.5 1092.1 768.4 1093.8 768.3 1095.5 768.3 1097.1 768.4 1098.8 768.4 1100.5 768.3 1102.2 768.3 1103.8 768.3 1105.5 767 1107.2 768.3 1108.9 768.2 1110.6 768.2 1112.3 768 1114 768.1 1115.7 768 1117.4 768.2 1119.2 768.1 1120.9 768 1122.7 768.1 1124.4 768 1126.2 768 1128 768.1 1129.7 767.9 1131.5 768 1133.3 767.9 1135.1 768 1136.9 768 1138.7 768 1140.5 769.1 1142.3 768 1144.1 768.1 1145.9 766.7 1147.7 767.9 1149.5 768 1151.3 767.9 1153.1 767.9 1154.9 767.1 1156.6 767.9 1158.4 767.9 1160.2 767.9 1162 767.8 1163.8 767.9 1165.6 767.8 1167.3 767.9 1169.1 766.8 1170.8 767.9 1172.6 767.9 1174.3 767.9 1176.1 767.9 1177.8 767.9 1179.5 768.8 1181.2 767.9 1182.9 767.9 1184.6 767.9 1186.3 767.9 1188 767.8 1189.6 767.7 1191.3 767.8 1192.9 767.8 1194.5 767.9 1196.1 767.9 1197.7 767.8 1199.3 767.8 1200.9 767.8 1202.4 767.7 1204 767.7 1205.5 767.9 1207 767.7 1208.5 767.6 1210 767.7 1211.4 767.8 1212.8 767.7 1214.2 767.6 1215.6 767.6 1217 767.5 1218.4 767.6 1219.7 766.6 1222 767.6 1224.2 767.6 1226.4 767.6 1228.5 767.5 1230.7 767.3 1232.8 766.1 1234.9 767.2 1236.9 767.2 1238.9 767.1 1240.9 767 1242.9 767.2 1244.8 767 1246.7 766.9 1248.6 766.9 1250.4 766.9 1252.2 766.7 1254 766.7 1255.7 766.8 1257.4 766.6 1259.1 766.5 1260.7 766.6 1262.3 766.4 1263.9 766.4 1265.4 766.2 1266.9 766.2 1268.4 766.2 1269.8 766.1 1271.2 766.2 1272.6 766.9 1273.9 765.9 1275.2 765.8 1276.5 765.9 1277.7 765.7 1278.9 765.6 1280 765.7 1281.2 765.6 1282.2 765.5 1283.3 765.5 1284.3 765.5 1288.3 765 1291 763.8 1292.7 765.7 1293.7 764.2 1294.3 763.7 1294.8 763.6 1295.6 763.4 1297 763.4 1298.3 763.4 1299.6 763.7 1300.8 764.1 1302.1 764.3 1303.4 764.6 1304.8 765.1 1306.3 765.5 1308.1 765.7 1310.1 766.1 1312.4 766.1 1313.7 765.1 1315.1 766.3 1316.7 766.3 1318.3 766.2 1320.1 766.2 1321.9 765.1 1323.8 766.3 1325.7 766.2 1327.6 766.1 1329.6 765.9 1331.5 765.9 1333.4 765.9 1335.3 765.8 1337.1 765.7 1338.9 765.6 1340.6 765.6 1342.1 765.5 1343.6 765.6 1344.9 765.6 1346.1 765.4 1349.1 765.3 1351 765.3 1352.2 765.4 1353.2 765.2 1354.4 765.1 1356.2 764.7 1357.5 764.5 1359 764.1 1360.6 763.7 1362.2 763.3 1363.9 762.7 1365.6 762.2 1367.3 761.8 1369 761.4 1370.5 760.9 1371.9 760.7 1373.1 760.3 1375.3 759.1 1377 760.3 1378.3 760.6 1379.6 761 1381 761.2 1382.4 761.5 1383.8 762 1385.2 762.4 1386.6 762.8 1388 763.1 1389.5 763 1391.1 762.6 1392.7 762 1394.3 761.7 1396 761.3 1397.4 760.9 1398.7 760.9 1400.1 760.5 1401.5 760.3 1403 760.2 1404.6 760.2 1406 760.3 1407.3 760.7 1408.6 760 1410.1 761.4 1411.7 761.8 1413.7 762.2 1416 762.5 1417.1 762.6 1418.2 762.8 1419.1 763 1420 763.2 1421 763.4 1422 763.5 1423.1 763.7 1424.3 763.7 1425.8 763.9 1427.4 764.1 1429.3 764.2 1431.6 764.5 1434.1 764.5 1437.1 764.7 1440.5 764.8 1441.6 764.8 1442.8 765 1444 764.9 1445.3 764.8 1446.7 765 1448.1 765 1449.6 765 1451.1 765.2 1452.6 765 1454.2 765.1 1455.8 765 1457.5 765.3 1459.2 765.2 1461 765.2 1462.7 765.1 1464.5 765.3 1466.3 765.1 1468.2 765.3 1470.1 765.4 1471.9 765.2 1473.8 765.2 1475.7 765.3 1477.7 765.4 1479.6 765.3 1481.5 766.7 1483.5 765.5 1485.4 765.3 1487.4 765.5 1489.3 765.4 1491.2 765.5 1493.2 765.6 1495.1 765.6 1497 765.6 1498.9 766.8 1500.7 765.7 1502.6 765.7 1504.4 765.6 1506.2 765.6 1507.9 765.8 1509.7 765.7 1511.4 765.8 1513 765.9 1514.7 765.8 1516.3 765.8 1517.8 767 1519.3 766 1520.8 766 1522.2 766.1 1523.5 766.2 1524.8 766.3 1527.3 765.1 1529.6 765.2 1531.9 766.6 1534 765.9 1536 766.7 1538 766.8 1539.8 767 1541.6 767.1 1543.3 767.2 1545 767.4 1546.6 767.4 1548.1 767.6 1549.6 767.9 1551.1 767.2 1552.6 767.4 1554 768.4 1555.4 768.4 1556.8 769.7 1558.2 769 1559.6 769.3 1561 769.3 1562.5 769.7 1563.9 769.9 1565.4 770.2 1567 770.5 1568.7 770.8 1570.4 771.3 1572.1 771.7 1573.8 772.2 1575.5 772.6 1577.1 773.2 1578.8 775 1580.4 774.2 1582.1 774.9 1583.7 775.4 1585.3 776.1 1586.9 776.7 1588.5 777.1 1590.1 777.7 1591.7 778.2 1593.2 778.8 1594.7 779.2 1596.2 779.8 1597.7 780.3 1599.2 780.6 1600.7 781 1602.1 781.5 1603.5 781.7 1605.4 782.1 1607.2 782.4 1609 781.4 1610.7 782.8 1612.4 783.2 1614 783.4 1615.7 783.4 1617.3 783.5 1618.9 783.6 1620.4 783.7 1622 783.7 1623.6 783.7 1625.2 784.4 1626.7 783.4 1628.3 783.5 1630 783.3 1631.6 783.2 1633.2 782.8 1634.7 782.6 1636.2 782.3 1637.7 782.1 1639.2 781.7 1640.8 780 1642.3 780.8 1643.8 780.5 1645.3 780.1 1646.8 779.6 1648.4 779 1649.9 778.5 1651.5 778.2 1653.1 777.6 1654.7 778.5 1656.3 776.7 1658 776.5 1659.7 777 1661.2 775.7 1662.7 775.4 1664.2 775.3 1665.7 775 1667.2 774.6 1668.7 774.3 1670.2 774.1 1671.8 773.6 1673.4 773.3 1674.9 773.1 1676.5 772.8 1678.1 772.6 1679.8 771.4 1681.4 772.1 1683.1 771.9 1684.8 771.6 1686.5 771.6 1688.2 771.3 1689.9 771.3 1691.7 771 1693.5 771.9 1695 770.9 1696.6 771 1698.2 771 1699.7 771.2 1701.4 771.1 1703 771.2 1704.6 771.3 1706.3 771.4 1707.9 771.5 1709.6 771.7 1711.3 771.9 1713 771 1714.7 772.4 1716.5 772.4 1718.2 772.8 1719.9 774.2 1721.7 773.1 1723.4 773.2 1725.2 772.3 1726.9 773.5 1728.6 773.6 1730.4 773.7 1732.1 773.7 1733.9 773.8 1735.6 773.7 1737.2 774.8 1738.8 773.8 1740.4 773.7 1742 773.7 1743.6 773.6 1745.2 773.5 1746.8 773.5 1748.4 772.5 1750 774.1 1751.6 773.2 1753.2 772.9 1754.8 772.9 1756.5 772.8 1758.1 772.6 1759.7 772.4 1761.4 773.6 1763 772.1 1764.7 772 1766.3 772 1768 771.7 1769.7 771.6 1771.4 771.5 1773.1 771.4 1774.8 771.1 1776.5 771.2 1778.2 771 1780 770.9 1781.6 770.8 1783.2 770.8 1784.8 770.6 1786.5 770.5 1788.2 770.5 1789.9 770.3 1791.6 770.2 1793.3 770.3 1795 770.1 1796.7 770.1 1798.5 770.1 1800.2 770 1801.9 769.9 1803.7 769.9 1805.4 769.6 1807.2 769.6 1808.9 769.6 1810.7 769.4 1812.4 769.5 1814.1 769.4 1815.8 769.4 1817.6 769.3 1819.2 769.1 1820.9 769.2 1822.6 769.2 1824.2 769.1 1825.9 768.9 1827.5 769.1 1829 768.9 1830.6 768.9 1832.5 768.9 1834.3 768.9 1836.2 768.8 1838.1 768.6 1839.9 768.8 1841.8 769.3 1843.6 768.6 1845.5 768.5 1847.3 768.5 1849.1 768.4 1850.9 768.5 1852.7 768.3 1854.5 768.5 1856.2 768.4 1857.9 768.4 1859.5 768.5 1861.2 768.3 1862.8 768.5 1864.3 768.5 1865.8 768.4 1867.3 768.5 1868.7 768.6 1870.1 769.8 1871.4 768.9 1872.7 768.9 1875 769.1 1877 769.5 1878.8 769.9 1880.5 770.1 1882 770.6 1883.5 770.9 1884.8 771.5 1886 771.9 1887.3 772.5 1888.5 773.1 1889.7 773.8 1891 774.3 1892.4 775 1893.8 775.8 1895.1 776.5 1896.4 777.5 1897.7 778.3 1899 779 1900.2 780.1 1901.5 780.9 1902.7 781.9 1904 783.1 1905.3 784.3 1906.6 785.3 1907.9 786.5 1909.3 787.8 1910.4 788.8 1911.5 790 1912.7 791.2 1913.9 792.5 1915.1 793.7 1916.3 795 1917.5 796.5 1918.7 797.9 1919.9 799.3 1921.2 800.6 1922.4 802 1923.5 803.4 1924.7 804.6 1925.8 805.7 1926.9 806.9 1928 807.9 1929 808.9 1930.5 810.1 1931.9 811.4 1933.2 812.5 1934.5 813.3 1935.7 814.1 1937 814.9 1938.1 815.7 1939.3 816.4 1940.5 817.2 1941.7 817.9 1943 818.7 1944.4 819.5 1945.8 820.1 1947.2 820.9 1948.6 821.4 1950 822.2 1951.5 822.9 1952.9 823.6 1954.3 824.4 1955.7 825.7 1957.1 827.2 1958 828.1 1958.9 829.1 1959.8 830.4 1960.7 831.6 1961.6 833 1962.5 834.3 1963.4 835.8 1964.3 837 1965.2 838.5 1966.1 840 1966.9 841.7 1967.8 843.2 1968.6 844.9 1969.5 846.4 1970.3 848 1971.1 849.6 1971.8 850.9 1972.5 852.5 1973.1 854.1 1973.8 855.6 1974.4 857.2 1975.1 858.5 1975.7 860.2 1976.3 861.8 1976.9 863.4 1977.5 865.1 1978.1 866.7 1978.7 868.4 1979.3 870 1979.9 871.5 1980.6 873.2 1981.2 874.6 1981.8 876.2 1982.4 877.6 1983.1 879.2 1983.7 881 1984.4 882.5 1985.1 884.2 1985.8 885.9 1986.5 887.4 1987.2 889 1987.8 890.7 1988.5 892.2 1989.2 893.8 1989.9 895.3 1990.5 896.7 1991.2 898.2 1991.8 899.4 1992.4 900.8 1993 901.8 1993.6 903 1994.7 904.9 1995.7 906.7 1996.7 908.1 1997.6 909.4 1998.5 910.6 1999.4 911.7 2000.3 912.7 2001.1 913.6 2002 914.3 2003.5 915.6 2004.9 916.4 2006.3 917.1 2007.7 917.1 2009.1 916.5 2010 915.9 2010.9 915.1 2011.8 913.9 2012.7 912.6 2013.6 911.2 2014.5 909.7 2015.3 907.7 2016.1 905.8 2016.5 904.4 2017 903.2 2017.4 901.6 2017.8 899.7 2018.2 898.1 2018.6 896.1 2019 894.2 2019.4 892.5 2019.8 890.5 2020.1 888.8 2020.5 887.3 2020.9 885.6 2021.3 884.5 2021.7 883.4 2022.8 881 2023.7 879.2 2024.8 878.2 2025.9 877.5 2027.3 877.2 2028.5 877.4 2029.9 878 2031.4 878.7 2032.9 879.7 2034.5 880.4 2035.9 880.6 2037.2 880 2038 879.3 2038.7 878.2 2039.4 877.1 2040 875.8 2040.7 874.3 2041.3 872.7 2041.9 871 2042.5 869.4 2043.1 867.5 2043.6 865.7 2044.2 863.8 2044.6 862.3 2044.9 860.8 2045.3 859.3 2045.6 857.9 2046 856.3 2046.3 854.5 2046.6 852.8 2046.9 851.1 2047.2 849.3 2047.6 847.6 2047.9 846 2048.2 844.5 2048.6 842.8 2049 841.2 2049.4 839.9 2049.8 838.4 2050.4 836.7 2051 835 2051.6 833.6 2052.2 832.1 2052.8 830.7 2053.5 829.2 2054.2 827.9 2054.9 826.5 2055.6 825.4 2056.4 823.9 2057.3 822.7 2058.2 821.4 2059.2 820.2 2060.2 818.8 2061.3 817.5 2062.4 816.4 2063.5 815 2064.7 813.7 2065.9 812.6 2067.2 811.3 2068.4 810.2 2069.7 809.3 2071 808.4 2072.3 807.4 2073.7 806.8 2075.2 805.8 2076.8 805.4 2078.4 804.7 2080 804.2 2081.6 803.7 2083.2 803.4 2084.7 803 2086.3 802.9 2087.8 802.6 2089.2 802.3 2090.9 802.2 2092.6 802.1 2094.2 802 2095.8 801.8 2097.3 801.9 2098.8 802.2 2100.3 802.5 2101.8 802.8 2103.2 803.3 2104.6 803.7 2105.9 804.5 2107.3 805.2 2108.6 805.9 2109.8 806.7 2111 808 2112.2 809 2113.4 810.2 2114.5 811.8 2115.3 812.8 2116.1 814.3 2116.8 815.6 2117.5 817 2118.2 818.5 2118.9 820.2 2119.5 821.7 2120.2 823.4 2120.9 825 2121.5 826.8 2122.2 828.2 2122.9 830 2123.6 831.4 2124.3 833.2 2125 834.8 2125.7 836.6 2126.4 838.5 2127.1 840 2127.8 841.8 2128.5 843.4 2129.2 844.9 2129.9 846.1 2130.6 847.3 2131.3 848.2 2132.6 849.5 2133.9 850.3 2135.1 850.6 2136.5 850.3 2138 850.4 2139.7 850.1 2141 850.1 2142.5 849.8 2144 849.5 2145.6 849 2147.2 848.7 2148.9 848.3 2150.6 848.1 2152.2 848.1 2153.8 848.3 2155.2 848.6 2156.6 848.9 2158 849.5 2159.4 850.1 2160.8 851 2162.2 851.6 2163.6 852.6 2165 853.3 2166.4 854.2 2167.8 855.3 2169.1 856 2170.4 856.9 2171.6 858 2172.9 859.2 2174.2 860.3 2175.5 861.4 2176.8 862.3 2178.1 863.3 2179.3 864.5 2180.6 865.1 2181.9 865.8 2183.4 866.7 2184.9 867.1 2186.4 867.6 2187.9 868 2189.4 868.3 2190.9 868.5 2192.5 868.7 2194.2 869.1 2196 869.3 2197.4 869.6 2199 869.7 2200.6 869.8 2202.2 870 2203.9 870.3 2205.6 870.4 2207.3 870.5 2209.1 870.7 2210.8 871 2212.4 871.2 2214 871.7 2215.6 872.1 2217.1 872.6 2218.7 873 2220.2 873.6 2221.7 874.2 2223.3 874.8 2224.8 875.5 2226.2 876.2 2227.6 876.9 2228.9 877.6 2230.2 878.4 2231.4 879.4 2232.5 880.5 2233.5 881.6 2234.4 882.9 2235.2 884 2236 885.5 2236.7 886.8 2237.3 888.2 2237.9 889.8 2238.5 891.5 2239.1 892.8 2239.7 894.3 2240.3 896 2240.9 897.4 2241.5 899 2242.1 900.5 2242.7 902.3 2243.3 904.1 2243.8 905.9 2244.4 907.7 2244.9 909.4 2245.5 910.8 2246.1 912.3 2246.7 913.7 2247.3 914.7 2248 915.6 2249.5 916.9 2251 917.2 2252.6 917.1 2254.3 916.5 2256.1 916 2257.8 915.7 2259.3 915.2 2260.8 914.5 2262.3 913.6 2263.9 912.7 2265.5 912.2 2267.2 911.8 2269 912.1 2270.2 912.4 2271.4 913 2272.7 913.8 2274 914.8 2275.4 915.8 2276.7 916.7 2278.1 918 2279.4 919.2 2280.7 920.2 2281.9 921.6 2283.1 922.8 2284.2 923.8 2285.3 924.8 2286.4 925.8 2287.5 926.9 2288.5 928 2289.6 929.1 2290.5 930.5 2291.5 931.8 2292.5 933.2 2293.4 934.9 2294.3 936.8 2294.8 937.9 2295.4 939.1 2295.9 940.5 2296.4 942 2296.9 943.3 2297.4 944.8 2297.9 946.3 2298.3 947.9 2298.8 949.4 2299.3 951.2 2299.7 952.7 2300.2 954.6 2300.6 956.2 2301.1 958 2301.5 959.6 2301.9 961.2 2302.4 963.1 2302.8 964.8 2303.2 966.2 2303.5 967.9 2303.9 969.6 2304.2 971.2 2304.5 972.8 2304.9 974.5 2305.2 976.4 2305.5 978.1 2305.8 979.9 2306.2 981.8 2306.5 983.6 2306.8 985.2 2307.1 986.8 2307.4 988.7 2307.8 990.2 2308.1 991.7 2308.4 993.3 2308.8 994.8 2309.1 996.2 2309.4 997.5 2309.8 998.6 2310.6 1000.8 2311.4 1003.2 2312.2 1005 2313.1 1006.9 2313.9 1008.2 2314.8 1009.8 2315.6 1010.7 2316.4 1011.7 2317.2 1012.3 2318 1012.9 2319 1012.8 2320 1012.1 2321 1010.9 2322 1009.3 2322.9 1007.5 2323.8 1005.7 2324.7 1004 2325.5 1002.7 2326.3 1001.5 2327.1 999.8 2327.9 998.4 2328.7 996.8 2329.4 995.5 2330.1 994 2330.7 993 2331.5 991.3 2332.2 990 2332.8 988.8 2333.3 987.8 2333.9 986.8 2334.9 985.4 2335.9 984 2337 983 2338.2 981.8 2339.5 981 2340.4 980.8 2340.5 982.1 2340.6 984.1 2340.6 985.6"/>
<path class="cv" stroke="#ff0000" d="M201.5 904L202.4 904 203.3 904 204.3 904 205.3 903.8 206.4 904.1 207.6 903.9 208.8 903.8 210 903.9 211.3 903.8 212.7 903.9 214 903.9 215.5 903.7 216.9 903.7 218.4 903.8 220 903.7 221.6 903.8 223.2 903.8 224.8 903.7 226.5 903.6 228.2 903.6 229.9 903.7 231.7 904.9 233.5 903.5 235.3 904.4 237.1 903.5 239 903.6 240.9 903.5 242.8 903.6 244.7 903.4 246.6 903.5 248.6 903.4 250.5 902.2 252.5 903.5 254.5 903.5 256.4 903.4 258.4 903.3 260.4 903.2 262.4 903.2 264.4 903.2 266.4 903.3 268.4 903.3 270.4 902.1 272.4 903.2 274.4 903.2 276.4 903.2 278.3 903.3 280.3 903.2 282.2 903.2 284.2 903.1 286.1 904.1 288 903.2 289.5 903.1 291.1 903.1 292.7 903.1 294.3 903.1 295.9 904 297.6 903 299.3 902.9 300.9 903.1 302.6 903 304.3 902.9 306.1 904 307.8 903 309.6 902.9 311.3 902.9 313.1 903 314.9 902.8 316.7 903 318.5 903 320.3 902.9 322.1 902.8 324 902.7 325.8 902.8 327.6 902.8 329.5 902.8 331.3 903.6 333.2 902.8 335 902.8 336.9 902.7 338.7 902.7 340.5 902.7 342.4 902.7 344.2 902.7 346 902.7 347.9 902.6 349.7 902.8 351.5 902.6 353.3 902.7 355.1 902.8 356.9 903.4 358.7 902.6 360.4 902.6 362.2 902.7 363.9 902.7 365.7 902.6 367.4 902.8 369.1 902.8 370.8 902.7 372.4 902.8 374.1 902.7 375.7 902.8 377.3 903.6 378.9 902.8 380.5 902.8 382 902.8 383.5 902.8 385 902.8 386.5 902.8 388 902.9 389.4 902.9 390.8 902.9 392.2 902.9 393.5 903.2 394.8 903.1 397.1 903.1 399.4 903.2 401.5 903.3 403.6 903.4 405.5 903.6 407.4 903.8 409.2 903.8 410.9 903.9 412.6 904 414.2 905 415.7 904.3 417.2 904.4 418.7 904.5 420.1 904.8 421.5 905 422.9 905.2 424.3 905.4 425.7 905.4 427 905.6 428.4 905.9 429.7 906.1 431.1 906.3 432.5 906.3 433.9 906.7 435.4 906.7 436.9 906.9 438.5 908.3 440 907.5 441.7 907.7 443.4 907.7 445.2 908.1 447 908.4 449 908.6 451 908.7 452.4 908.8 453.9 909 455.4 909.2 456.9 909.3 458.4 909.6 460 909.7 461.6 909.8 463.2 909.9 464.9 910.2 466.5 910.5 468.2 910.5 469.9 910.8 471.6 911.1 473.4 911.2 475.1 911.3 476.9 910.7 478.7 911.8 480.5 911.9 482.3 912.2 484.1 912.5 485.9 912.7 487.7 912.9 489.5 913.1 491.4 913.3 493.2 913.6 495 913.6 496.9 914 498.7 914.1 500.5 914.3 502.3 914.4 504.1 914.6 505.9 914.9 507.7 915.1 509.5 915.3 511.3 915.4 513 915.6 514.8 916.6 516.5 916 518.2 916.1 519.9 916.4 521.5 916.6 523.2 916.7 524.8 916.9 526.4 915.8 528 917.2 529.5 916.2 531 917.5 532.5 917.7 534 918 535.4 918 537.4 918.2 539.4 918.4 541.4 918.5 543.3 918.7 545.2 918.9 547 920.1 548.8 920.5 550.6 918.6 552.3 919.5 554 920.6 555.7 919.7 557.3 919.9 558.9 920.2 560.6 920.2 562.1 919.4 563.7 920.5 565.3 921.4 566.8 920.8 568.3 920.7 569.9 920.9 571.4 920.9 572.9 921 574.4 921.2 575.9 922.6 577.4 921.4 579 921.6 580.5 922.6 582 922.4 583.6 921.7 585.2 921.8 586.7 922 588.3 922.1 590 922.2 591.6 922.1 593.2 922.2 594.9 922.4 596.5 922.3 598 922.5 599.6 922.6 601.2 922.7 602.7 922.7 604.2 922.7 605.8 922.8 607.3 923 608.8 923 610.3 923 611.8 923 613.3 923.1 614.9 923.2 616.4 923.2 617.9 923.3 619.5 923.5 621.1 924.7 622.7 923.4 624.3 923.5 625.9 923.5 627.5 923.5 629.2 923.7 630.9 923.6 632.6 923.5 634.4 923.7 636.2 922.5 638 923.6 639.9 923.8 641.8 923.6 643.8 923.5 645.8 923.7 647.8 923.6 649.2 923.5 650.7 923.7 652.2 923.6 653.7 923.5 655.3 923.6 656.9 923.4 658.5 923.4 660.2 923.3 661.9 923.3 663.6 923.2 665.3 923.2 667.1 923.2 668.9 924.4 670.7 923.2 672.5 923 674.3 922.9 676.2 923 678 923 679.9 921.9 681.7 921.7 683.6 922.7 685.5 922.5 687.3 922.6 689.2 922.5 691.1 922.5 693 922.3 694.8 921.4 696.7 922.2 698.5 922.1 700.4 922 702.2 922.1 704 921.9 705.8 921.8 707.6 921.9 709.3 921.7 711.1 921.8 712.8 922.8 714.5 921.6 716.1 921.6 717.8 921.4 719.4 921.3 720.9 921.3 722.5 921.1 724 920.1 725.4 921 726.8 921.1 728.2 920.9 729.6 920.9 730.9 920.8 732.1 920.9 734.6 920.6 736.8 920.5 738.8 919.6 740.5 920.4 742.1 920.4 743.4 920.3 744.7 920.2 745.8 920.1 746.8 919.9 747.8 919.9 748.8 919.8 749.8 919.9 750.8 919.8 751.9 919.5 753.1 920.2 754.5 919.3 756 919.2 757.7 919.2 759.6 918.9 761.7 918.2 764.2 918.8 766.9 918.6 770 918.5 771.1 918.3 772.3 918.3 773.5 918.2 774.7 917.4 776 918.1 777.3 918.1 778.6 917.8 780 916.8 781.3 917.9 782.8 917.6 784.2 917.7 785.6 917.4 787.1 918.3 788.6 917.3 790.1 917.3 791.7 917.1 793.3 917.2 794.8 917.1 796.5 916.9 798.1 916.7 799.7 916.8 801.4 916.7 803.1 916.5 804.8 916.4 806.5 916.4 808.2 915.5 809.9 916 811.7 916.1 813.5 916 815.2 915.8 817 915.6 818.8 915.6 820.6 915.5 822.5 915.4 824.3 915.4 826.1 915.2 827.9 915.2 829.8 915 831.6 914.9 833.5 915.7 835.3 914.7 837.2 914.7 839.1 914.4 840.9 915.2 842.8 914.3 844.7 914.2 846.5 914.1 848.4 914.1 850.2 914 852.1 913.9 853.9 913.8 855.8 913.7 857.6 913.5 859.5 913.4 861.3 913.4 863.1 913.4 864.9 913.2 866.7 913 868.5 912.9 870.3 913 872.1 912.8 873.8 911.6 875.6 912.8 877.3 912.6 879 912.6 880.7 912.4 882.4 912.3 884.1 912.3 885.7 912.3 887.4 912.3 889 912 890.7 912 892.3 912 893.9 912 895.6 911.9 897.2 911.8 898.8 911.6 900.4 912.3 902 911.5 903.6 911.5 905.2 911.5 906.7 911.3 908.3 910.2 909.9 911.2 911.5 911.2 913.1 911.2 914.6 911.8 916.2 910 917.8 910.9 919.4 910.8 920.9 910.8 922.5 910.6 924.1 910.6 925.6 910.7 927.2 910.7 928.8 910.5 930.4 909.3 932 910.5 933.6 910.3 935.2 910.2 936.8 910.3 938.4 910.2 940 910.2 941.6 910 943.2 910 944.8 909.8 946.5 909.8 948.1 909.8 949.8 909.9 951.4 909.8 953.1 909.6 954.8 908.8 956.5 909.6 958.1 909.5 959.9 909.5 961.6 909.5 963.3 909.3 965 909.3 966.8 909.3 968.6 909.2 970.3 909.3 972.1 909.1 973.9 908.4 975.7 909.1 977.6 909 979.4 909.1 981.3 910.1 983.2 910 985.1 909 987 908.9 988.9 908.8 990.9 908.8 992.8 908.9 994.8 908.6 996.3 908.6 997.8 908.6 999.3 908.7 1000.9 908.5 1002.4 908.6 1004 908.7 1005.7 908.5 1007.3 908.6 1009 908.5 1010.6 908.5 1012.3 908.5 1014.1 908.3 1015.8 908.5 1017.6 908.4 1019.3 909.5 1021.1 908.3 1022.9 908.3 1024.7 908.3 1026.6 908.3 1028.4 908.2 1030.2 908.3 1032.1 908.1 1034 908 1035.9 908.2 1037.8 908.2 1039.7 908.1 1041.6 908.1 1043.5 907.9 1045.4 908 1047.4 908 1049.3 908 1051.2 908 1053.2 907.8 1055.1 907.9 1057.1 907.9 1059 907.9 1061 907.7 1062.9 907.9 1064.9 907.8 1066.8 907.7 1068.8 907.8 1070.7 907.7 1072.7 907.7 1074.6 907.8 1076.6 907.8 1078.5 907.8 1080.4 907.8 1082.4 907.8 1084.3 907.6 1086.2 907.6 1088.1 907.7 1090 907.7 1091.9 907.6 1093.7 907.5 1095.6 907.7 1097.4 907.6 1099.3 907.6 1101.1 907.5 1102.9 907.6 1104.7 907.6 1106.5 907.7 1108.2 907.4 1110 907.5 1111.7 907.4 1113.4 907.4 1115.1 907.4 1116.8 906.6 1118.4 907.5 1120.1 907.6 1121.7 907.6 1123.3 907.5 1124.8 907.5 1126.4 907.5 1127.9 907.5 1129.4 907.4 1130.9 907.4 1132.3 907.6 1133.7 907.5 1135.1 906.4 1136.5 907.4 1137.8 907.5 1139.1 907.4 1140.4 907.6 1141.6 907.5 1142.8 907.5 1144 907.5 1145.2 907.6 1146.3 907.5 1147.4 907.7 1148.4 907.7 1149.4 907.7 1153.7 907.6 1157.3 907.8 1160.1 908 1162.4 908.4 1164.1 908.5 1165.4 908.8 1166.4 909 1167.1 909.5 1167.7 909.8 1168.2 910.1 1168.7 910.3 1169.4 910.5 1170.2 910.6 1171.3 911 1172.8 910.9 1174.7 910.9 1176 910.9 1177.4 910.9 1178.8 910.9 1180.2 910.8 1181.7 910.8 1183.2 910.8 1184.7 910.7 1186.2 910.4 1187.8 910.5 1189.4 910.3 1191.1 910.1 1192.7 909.8 1194.4 909.8 1196.1 909.6 1197.9 909.5 1199.6 909.3 1201.4 909.1 1203.1 908.8 1204.9 908.7 1206.7 909.8 1208.6 908.4 1210.4 908.3 1212.2 909.3 1214.1 907.9 1216 907.9 1217.8 907.6 1219.7 907.7 1221.2 907.6 1222.8 907.4 1224.4 907.3 1226 907.3 1227.7 907 1229.4 907.1 1231.1 906.9 1232.9 906.8 1234.7 906.8 1236.5 906.7 1238.3 906.7 1240.1 906.5 1242 906.5 1243.8 906.3 1245.6 906.4 1247.5 906.2 1249.3 906 1251.1 906.1 1252.9 906 1254.7 904.8 1256.5 905.9 1258.2 905.7 1259.9 905.5 1261.6 905.5 1263.2 905.6 1264.9 905.4 1266.4 905.4 1267.9 905.3 1269.4 905.2 1270.8 905.2 1272.2 905 1273.5 905 1274.7 905 1275.9 904.7 1278.7 904.7 1281.1 904.4 1283.2 904 1285 903.8 1286.6 903.6 1288 903.5 1289.3 903.2 1290.5 903 1291.7 902.7 1292.9 902.7 1294.1 903.6 1295.5 902.4 1297 902.4 1298.6 902.5 1300.2 902.7 1301.7 902.8 1303.2 903.1 1304.8 903.4 1306.3 903.8 1307.8 904.1 1309.4 904.4 1311 904.5 1312.7 904.9 1314.4 905.1 1316.2 905.2 1318 905.2 1319.5 905.2 1321.1 905.3 1322.8 905.4 1324.5 904.3 1326.3 903.9 1328.1 905.2 1330 905.1 1331.8 905 1333.6 904.6 1335.5 904.6 1337.2 904.5 1338.9 904.4 1340.6 904.3 1342.1 904.2 1343.6 904 1344.9 905.2 1346.1 904 1348.7 903.9 1350.5 904.8 1351.9 903.9 1353 902.7 1354.3 903.7 1356.2 903.3 1357.5 903.1 1359 902.9 1360.6 902.4 1362.2 901.8 1363.9 902.5 1365.6 900.8 1367.3 900.4 1369 900 1370.5 899.6 1371.9 899.2 1373.1 899 1375.3 898.9 1377 898.9 1378.3 899.1 1379.6 900.4 1381 898.5 1382.4 900.1 1383.8 900.6 1385.2 901.2 1386.6 901.4 1388 901.7 1389.5 901.6 1391.1 901.1 1392.7 900.6 1394.3 900.1 1396 898.9 1397.4 899.4 1398.7 899.2 1400.1 898.9 1401.5 898.7 1403 898.5 1404.6 898.6 1406 897.5 1407.3 899.1 1408.6 899.2 1410.1 899.7 1411.7 900.2 1413.7 900.6 1416 901 1417.1 901.2 1418.2 901.3 1419.1 901.7 1420 901.9 1421 902 1422 902.2 1423.1 902.4 1424.3 902.6 1425.8 902.9 1427.4 903 1429.3 903.3 1431.6 903.4 1434.1 903.6 1437.1 903.9 1440.5 904.1 1441.6 904 1442.8 904.1 1444 904.2 1445.3 904.2 1446.7 904.2 1448.1 904.4 1449.6 904.4 1451.1 904.3 1452.6 904.5 1454.2 904.4 1455.8 905.6 1457.5 904.6 1459.2 904.6 1461 904.4 1462.7 904.5 1464.5 904.7 1466.3 904.7 1468.2 905.8 1470.1 904.6 1471.9 904.8 1473.8 904.8 1475.7 904.9 1477.7 904.8 1479.6 904.8 1481.5 904.9 1483.5 904.8 1485.4 905 1487.4 905 1489.3 905.1 1491.2 905.1 1493.2 905.1 1495.1 905.2 1497 905.1 1498.9 905.3 1500.7 905.3 1502.6 906 1504.4 905.4 1506.2 905.4 1507.9 905.3 1509.7 905.5 1511.4 905.4 1513 905.5 1514.7 905.6 1516.3 905.5 1517.8 905.7 1519.3 905.7 1520.8 905.8 1522.2 905.8 1523.5 905.8 1524.8 905.8 1527.3 906 1529.6 906.1 1531.9 906.3 1534 906.4 1536 906.4 1538 906.4 1539.8 906.6 1541.6 906.6 1543.3 906.7 1545 906.7 1546.6 908.2 1548.1 907 1549.6 907.2 1551.1 907.2 1552.6 907.5 1554 907.5 1555.4 907.7 1556.8 908 1558.2 908.2 1559.6 908.3 1561 908.6 1562.5 908.9 1563.9 908.9 1565.4 909.3 1567 909.5 1568.7 909.1 1570.4 910.3 1572.1 911 1573.8 911.4 1575.5 910.7 1577.1 912.6 1578.8 913 1580.4 913.6 1582.1 914.3 1583.7 914.8 1585.3 915.5 1586.9 916.2 1588.5 916.9 1590.1 916.6 1591.7 918 1593.2 918.6 1594.7 919.2 1596.2 919.6 1597.7 920.1 1599.2 920.7 1600.7 921.1 1602.1 921.3 1603.5 921.8 1605.4 922.2 1607.2 922.4 1609 922.5 1610.7 922.7 1612.4 922.9 1614 923.1 1615.7 922.1 1617.3 923.1 1618.9 923.2 1620.4 923.2 1622 923.1 1623.6 922.9 1625.2 922.9 1626.7 922.7 1628.3 922.5 1630 922.5 1631.6 922.2 1633.2 922 1634.7 921.7 1636.2 921.5 1637.7 921.2 1639.2 920.7 1640.8 921.1 1642.3 919.9 1643.8 919.5 1645.3 919 1646.8 918.6 1648.4 918.2 1649.9 917.6 1651.5 917 1653.1 915.7 1654.7 916.3 1656.3 915.8 1658 914.2 1659.7 915.1 1661.2 914.9 1662.6 914.7 1664 914.4 1665.5 914.2 1666.9 913.8 1668.3 913.6 1669.7 913.3 1671.2 913.2 1672.6 912.9 1674.1 912.5 1675.6 912.4 1677.1 911.2 1678.7 912 1680.4 911.7 1682 910.5 1683.8 911.6 1685.6 911.3 1687.4 911.4 1689.4 911 1691.4 911 1693.5 911 1694.9 910.9 1696.3 911 1697.7 911 1699.2 910.9 1700.8 911.1 1702.4 911 1704.1 911.2 1705.7 911.1 1707.4 911.2 1709.2 911.2 1710.9 911.3 1712.7 912.4 1714.5 912.2 1716.3 911.5 1718.2 911.7 1720 911.8 1721.8 910.6 1723.6 911.9 1725.5 912 1727.3 913 1729.1 912.2 1730.9 912.3 1732.6 912.4 1734.4 912.5 1736.1 912.6 1737.8 912.6 1739.4 912.9 1741 912.8 1742.6 913 1744.1 912.8 1745.6 913.1 1747 913 1748.4 913 1749.7 913.1 1752 913.1 1754.1 912.9 1756.1 913 1757.9 914 1759.7 912.8 1761.3 912.5 1762.8 912.5 1764.3 912.4 1765.7 912.1 1767.1 912 1768.5 911.9 1770 911.9 1771.4 911.7 1773 911.5 1774.6 911.4 1776.3 911.1 1778.1 911.1 1780 911 1781.5 911.5 1783 910.8 1784.5 910.7 1786 910.6 1787.6 910.4 1789.2 910.2 1790.8 910.3 1792.4 910.1 1794.1 909.9 1795.8 909.9 1797.4 909.7 1799.2 909 1800.9 909.5 1802.6 909.6 1804.4 909.3 1806.1 909.4 1807.9 909.2 1809.6 909 1811.4 908.9 1813.2 908.9 1815 908.8 1816.8 908.9 1818.6 908.6 1820.4 908.6 1822.2 907.4 1823.8 908.7 1825.4 908.6 1827 908.4 1828.7 908.5 1830.4 908.4 1832.1 908.3 1833.9 908.3 1835.7 909.5 1837.4 908.1 1839.2 908.3 1841 907.3 1842.8 908 1844.6 908.1 1846.4 908 1848.2 908.1 1849.9 908.1 1851.7 907.9 1853.4 907.9 1855.1 908 1856.8 907.9 1858.4 908 1860 908.1 1861.6 908.2 1863.1 908.1 1864.6 908.1 1866 908.2 1867.4 908.4 1868.7 908.5 1869.9 908.6 1872.3 909 1874.5 909.2 1876.5 909.7 1878.3 910 1880 909.4 1881.6 911 1883.1 911.3 1884.5 911.9 1885.8 912.4 1887.1 913.1 1888.4 913.7 1889.7 914.4 1891 915 1892.4 915.8 1893.9 916.4 1895.3 917.3 1896.6 918 1897.9 918.8 1899.2 919.8 1900.4 920.5 1901.6 921.4 1902.9 922.4 1904.1 923.5 1905.3 924.7 1906.6 925.8 1907.9 927.1 1909.3 928.2 1910.3 929.2 1911.4 930.5 1912.5 931.7 1913.6 932.9 1914.7 934.3 1915.9 935.6 1917 936.9 1918.2 938.3 1919.3 939.8 1920.5 941 1921.6 942.5 1922.8 943.8 1923.9 945.3 1925 946.5 1926 947.7 1927 948.8 1928 949.9 1929 950.8 1930.5 952.3 1931.9 953.5 1933.2 954.5 1934.5 955.4 1935.7 956.2 1937 957.1 1938.1 957.7 1939.3 958.3 1940.5 959.1 1941.7 959.7 1943 960.6 1944.4 961.4 1945.8 962.1 1947.2 962.7 1948.6 963.4 1950 964 1951.5 964.5 1952.9 965.4 1954.3 966.5 1955.7 967.6 1957.1 969 1957.9 970.1 1958.8 971.1 1959.6 972.2 1960.5 973.6 1961.3 974.7 1962.2 976.2 1963 977.6 1963.9 978.9 1964.7 980.5 1965.5 981.9 1966.4 983.5 1967.2 985.1 1968 986.7 1968.8 988.3 1969.6 989.9 1970.3 991.3 1971.1 993 1971.8 994.3 1972.5 995.9 1973.1 997.3 1973.8 998.9 1974.4 1000.3 1975.1 1001.9 1975.7 1003.4 1976.3 1005 1976.9 1006.5 1977.5 1008.2 1978.1 1009.6 1978.7 1011.3 1979.3 1012.9 1979.9 1014.4 1980.6 1016.1 1981.2 1017.7 1981.8 1019.2 1982.4 1021 1983 1022.5 1983.5 1024.1 1984.1 1025.8 1984.7 1027.2 1985.3 1028.9 1985.9 1030.6 1986.4 1032.3 1987 1033.9 1987.6 1035.7 1988.2 1037.3 1988.8 1038.9 1989.3 1040.8 1989.9 1042.3 1990.4 1043.9 1991 1045.3 1991.5 1046.7 1992.1 1048.2 1992.6 1049.6 1993.1 1050.7 1993.6 1051.9 1994.6 1054.2 1995.5 1056 1996.4 1057.8 1997.2 1059.4 1998.1 1060.8 1998.9 1062 1999.7 1063.2 2000.4 1064.2 2001.2 1065.2 2002 1066 2003.5 1067.6 2004.9 1068.9 2006.3 1069.6 2007.7 1069.8 2009.1 1069.4 2009.9 1068.8 2010.7 1068.1 2011.5 1067.1 2012.3 1065.9 2013.1 1064.5 2013.9 1063 2014.6 1061.3 2015.4 1059.6 2016.1 1057.7 2016.5 1056.4 2016.9 1054.9 2017.3 1053.3 2017.7 1051.6 2018.1 1049.9 2018.4 1048.1 2018.8 1046.1 2019.2 1044.4 2019.5 1042.7 2019.9 1040.9 2020.2 1039.1 2020.6 1037.5 2021 1036.1 2021.3 1034.7 2021.7 1033.7 2022.6 1031.6 2023.4 1029.8 2024.2 1028.9 2025.1 1028.1 2026.1 1027.6 2027.3 1027.3 2028.7 1027.3 2030.4 1027.9 2032.2 1029.1 2034 1029.9 2035.7 1030.2 2037.2 1029.5 2038 1028.7 2038.7 1027.8 2039.4 1026.6 2040 1025.1 2040.7 1023.7 2041.3 1022.1 2041.9 1020.4 2042.5 1018.6 2043.1 1016.6 2043.6 1014.7 2044.2 1012.6 2044.6 1011.1 2044.9 1009.7 2045.2 1008.2 2045.6 1006.5 2045.9 1004.8 2046.2 1003.2 2046.5 1001.4 2046.8 999.6 2047.1 997.7 2047.4 996 2047.7 994.2 2048 992.6 2048.3 990.8 2048.7 989.1 2049 987.4 2049.4 986 2049.8 984.4 2050.3 982.7 2050.9 980.9 2051.4 979.4 2052 977.7 2052.6 976.1 2053.2 974.7 2053.8 973 2054.4 971.8 2055.1 970.2 2055.8 968.8 2056.6 967.4 2057.4 966.1 2058.2 964.8 2059.1 963.4 2060 962.1 2060.9 960.8 2061.9 959.4 2063 958.1 2064 956.9 2065.1 955.7 2066.2 954.6 2067.4 953.3 2068.5 952.4 2069.8 951.3 2071 950.3 2072.3 949.5 2073.6 948.5 2075.1 947.8 2076.6 947.1 2078.1 946.2 2079.7 945.6 2081.3 945 2083 944.3 2084.6 943.9 2086.2 943.5 2087.7 943.1 2089.2 942.7 2090.7 942.6 2092 942.2 2093.8 942.1 2095.5 942.1 2097.2 942.1 2098.8 942.4 2100.3 942.6 2101.7 943.1 2103.2 943.8 2104.6 944.5 2106 945.2 2107.3 946 2108.5 946.9 2109.7 947.9 2110.9 949 2112 950.2 2113.1 951.5 2114.2 952.9 2115.3 954.4 2116.3 956.1 2117.3 957.7 2117.9 959 2118.6 960.6 2119.2 962.2 2119.8 963.7 2120.4 965.4 2120.9 967.1 2121.5 968.9 2122 970.7 2122.6 972.4 2123.1 974.1 2123.6 975.9 2124.2 977.6 2124.7 979 2125.2 980.5 2125.7 981.6 2126.5 983.7 2127.3 985.6 2128.1 987.2 2128.9 988.7 2129.7 990.2 2130.4 991.4 2131.2 992.5 2131.9 993.5 2132.7 994.3 2134 995 2135.2 995.2 2136.4 995.2 2137.8 994.7 2139.7 994.3 2141 994 2142.4 993.6 2143.9 993 2145.5 992.5 2147.2 991.8 2148.8 991.5 2150.5 991.1 2152.2 990.9 2153.8 991.1 2155.2 991.4 2156.6 991.7 2158 992.5 2159.4 993.3 2160.8 994.1 2162.2 995 2163.6 995.9 2165 996.8 2166.4 997.8 2167.8 998.7 2169.2 999.4 2170.5 1000.5 2171.8 1001.4 2173.2 1002.4 2174.5 1003.4 2175.9 1004.3 2177.3 1005.3 2178.7 1005.9 2180.3 1006.6 2181.9 1006.9 2183.3 1007.1 2184.9 1007.2 2186.4 1006.9 2188.1 1006.7 2189.7 1006.5 2191.4 1005.9 2193.1 1005.6 2194.8 1005.2 2196.5 1005 2198.3 1004.6 2199.9 1004.3 2201.6 1004.1 2203.3 1004 2204.9 1004.1 2206.7 1003.9 2208.4 1004 2210.1 1003.9 2211.8 1004.1 2213.5 1004 2215.2 1004.3 2216.8 1004.5 2218.3 1004.6 2219.9 1005 2221.3 1005.6 2222.8 1006.2 2224.3 1006.9 2225.7 1007.7 2227 1008.5 2228.4 1009.4 2229.6 1010.4 2230.9 1011.5 2232 1012.7 2233.2 1014 2234.3 1015.4 2235.3 1016.8 2236 1018.1 2236.7 1019.4 2237.3 1020.9 2237.9 1022.3 2238.5 1024 2239.1 1025.7 2239.6 1027.6 2240.1 1029.3 2240.6 1030.8 2241.1 1032.7 2241.6 1034 2242.1 1035.6 2242.6 1037 2243.1 1038.3 2243.7 1039.3 2244.8 1041.1 2245.9 1042.7 2246.9 1043.9 2248 1044.9 2249.2 1045.5 2250.5 1045.7 2252.2 1045.9 2253.3 1045.7 2254.6 1045.1 2255.9 1044.3 2257.3 1043.5 2258.7 1042.4 2260.2 1041.5 2261.8 1040.4 2263.3 1039.5 2264.8 1038.6 2266.3 1038 2267.7 1037.6 2269 1037.3 2270.5 1037.6 2272 1037.9 2273.5 1038.5 2275 1039.3 2276.4 1040.2 2277.8 1041.4 2279.2 1042.4 2280.5 1043.7 2281.8 1045 2283.1 1046.4 2284.1 1047.4 2285.2 1048.4 2286.2 1049.5 2287.1 1050.7 2288.1 1052.2 2289.1 1053.4 2290 1054.8 2290.9 1056.3 2291.8 1057.8 2292.6 1059.5 2293.5 1061.3 2294.3 1063.1 2294.8 1064.5 2295.3 1065.9 2295.8 1067.1 2296.3 1068.7 2296.8 1070.1 2297.2 1071.6 2297.7 1073.2 2298.1 1074.7 2298.6 1076.4 2299 1078.2 2299.5 1079.7 2299.9 1081.5 2300.3 1083.2 2300.7 1084.9 2301.2 1086.8 2301.6 1088.5 2302 1090.5 2302.4 1092.3 2302.8 1094.1 2303.1 1095.7 2303.4 1097.2 2303.7 1098.7 2304.1 1100.5 2304.4 1102.1 2304.7 1103.8 2304.9 1105.7 2305.2 1107.4 2305.5 1109.1 2305.8 1110.9 2306.1 1112.8 2306.4 1114.5 2306.7 1116.3 2306.9 1118.1 2307.2 1119.9 2307.5 1121.7 2307.8 1123.3 2308.1 1125 2308.4 1126.4 2308.6 1128 2308.9 1129.6 2309.2 1130.8 2309.5 1132.3 2309.8 1133.5 2310.4 1135.9 2311 1138.1 2311.6 1140.3 2312.2 1142.4 2312.8 1144.3 2313.4 1145.9 2314 1147.5 2314.6 1148.9 2315.2 1149.9 2315.8 1150.9 2316.4 1151.5 2317 1151.9 2317.8 1152 2318.6 1151.6 2319.4 1150.3 2320.1 1149 2320.9 1147.2 2321.7 1145.3 2322.5 1143.6 2323.2 1141.8 2324 1140.3 2324.8 1138.9 2325.5 1137.4 2326.3 1135.8 2327.1 1134.3 2327.9 1132.8 2328.6 1131.4 2329.3 1129.9 2330 1128.5 2330.6 1127.2 2331.4 1125.5 2332.1 1123.9 2332.8 1122.4 2333.4 1121.3 2333.9 1120 2334.5 1119 2335.5 1116.9 2336.5 1115.4 2337.4 1115 2338.2 1115.9 2339 1117.6 2339.8 1119.5 2340.3 1120.8"/>
<path class="cv" stroke="#00b050" d="M201.5 1044.6L202.4 1044.6 203.3 1044.6 204.3 1044.5 205.3 1043.7 206.4 1044.5 207.5 1044.6 208.7 1044.6 209.9 1044.5 211.2 1044.6 212.5 1044.6 213.9 1044.5 215.3 1044.5 216.7 1044.4 218.2 1044.5 219.7 1044.6 221.3 1044.5 222.9 1044.5 224.5 1044.4 226.2 1044.3 227.9 1044.4 229.6 1044.3 231.3 1044.4 233.1 1044.4 234.9 1044.4 236.8 1045.3 238.6 1044.4 240.5 1044.4 242.4 1044.3 244.3 1043.3 246.2 1044.3 248.1 1044.4 250.1 1044.3 252.1 1044.3 254.1 1044.4 256.1 1043.1 258.1 1043.3 260.1 1044.2 262.1 1044.3 264.1 1044.3 266.2 1044.1 268.2 1044.2 270.2 1044.2 272.3 1044.1 274.3 1044.1 276.3 1044.2 278.4 1044.2 280.4 1044.2 282.4 1044.1 283.9 1044.2 285.3 1045.1 286.8 1044 288.4 1044 289.9 1044 291.5 1043.9 293.1 1043.9 294.7 1044 296.4 1044 298 1043.9 299.7 1044 301.4 1044 303.1 1043.9 304.8 1043.7 306.5 1043.7 308.3 1042.6 310 1044.7 311.8 1043.7 313.6 1043.7 315.4 1042.7 317.2 1043.6 319 1043.6 320.8 1043.5 322.7 1043.4 324.5 1043.5 326.3 1043.4 328.2 1043.5 330 1043.4 331.8 1043.5 333.7 1043.3 335.5 1043.4 337.4 1043.2 339.2 1043.3 341.1 1043.3 342.9 1043.3 344.7 1043.2 346.6 1043.1 348.4 1043.1 350.2 1043.1 352 1042 353.8 1042.9 355.6 1044.1 357.4 1043 359.2 1042.9 360.9 1043 362.7 1042.9 364.4 1043 366.1 1043 367.8 1042 369.5 1042.9 371.2 1041.9 372.8 1044.1 374.4 1042.8 376.1 1042.9 377.6 1043 379.2 1042.9 380.8 1042.9 382.3 1043 383.8 1042.9 385.3 1043.1 386.7 1043 388.1 1043 389.5 1043 390.9 1043 392.2 1043.2 393.5 1043.1 394.8 1043.3 397.2 1043.3 399.5 1043.3 401.7 1043.4 403.8 1043.5 405.8 1043.7 407.7 1043.8 409.5 1044.1 411.3 1044.9 413 1044.2 414.6 1044.5 416.1 1044.7 417.7 1044.9 419.1 1044.2 420.5 1045.1 421.9 1045.4 423.3 1045.6 424.6 1045.8 426 1046 427.3 1046.4 428.7 1046.4 430 1046.6 431.3 1046.9 432.7 1047.1 434.1 1047.5 435.6 1047.6 437 1047.8 438.5 1048.1 440.1 1047.4 441.7 1048.6 443.4 1048.8 445.2 1049 447.1 1049.3 449 1049.5 451 1049.7 452.4 1049.9 453.9 1050 455.4 1050.2 456.9 1050.3 458.4 1050.5 460 1050.8 461.6 1051 463.2 1051.1 464.9 1051.2 466.5 1051.5 468.2 1051.6 469.9 1051.8 471.6 1051.9 473.4 1052.2 475.1 1052.5 476.9 1051.4 478.7 1052.8 480.5 1053.1 482.3 1053.2 484.1 1053.3 485.9 1053.6 487.7 1053.9 489.5 1053.9 491.4 1054.1 493.2 1054.3 495 1054.5 496.9 1054.9 498.7 1054.9 500.5 1055.1 502.3 1055.3 504.1 1055.6 505.9 1055.7 507.7 1056 509.5 1056.1 511.3 1056.4 513 1056.6 514.8 1056.7 516.5 1056.8 518.2 1057 519.9 1057.1 521.5 1057.5 523.2 1057.5 524.8 1057.6 526.4 1057.8 528 1058 529.5 1058.1 531 1058.3 532.5 1058.3 534 1058.6 535.4 1058.8 537.4 1058.8 539.4 1059 541.4 1059.3 543.3 1059.3 545.2 1059.5 547 1059.6 548.8 1059.9 550.6 1060 552.3 1060.1 554 1060.2 555.7 1060.2 557.3 1059.3 558.9 1060.5 560.6 1060.7 562.1 1059.8 563.7 1060.8 565.3 1060.9 566.8 1061.8 568.3 1061.2 569.9 1061.1 571.4 1061.3 572.9 1061.2 574.4 1061.4 575.9 1061.4 577.4 1061.5 579 1061.6 580.5 1061.7 582 1061.7 583.6 1061.9 585.2 1061.8 586.7 1063.1 588.3 1062 590 1062 591.6 1062.2 593.2 1062.3 594.9 1062.2 596.5 1062.4 598 1062.3 599.6 1063.4 601.2 1062.6 602.7 1063.9 604.2 1062.7 605.8 1062.7 607.3 1062.7 608.8 1062.9 610.3 1063 611.8 1063 613.3 1063.9 614.9 1063.1 616.4 1063.3 617.9 1063.2 619.5 1063.3 621.1 1063.3 622.7 1063.4 624.3 1063.5 625.9 1063.6 627.5 1063.5 629.2 1063.4 630.9 1063.6 632.6 1063.6 634.4 1062.4 636.2 1063.6 638 1063.6 639.9 1063.6 641.8 1063.6 643.8 1063.7 645.8 1063.6 647.8 1063.5 649.2 1063.5 650.7 1063.4 652.2 1063.4 653.7 1063.4 655.3 1063.3 656.9 1063.3 658.5 1063.2 660.2 1063.1 661.9 1063.2 663.6 1062.9 665.3 1063 667.1 1062.9 668.9 1062.7 670.7 1062.6 672.5 1062.6 674.3 1062.4 676.2 1062.4 678 1062.3 679.9 1062.3 681.7 1062.2 683.6 1062.1 685.5 1062 687.3 1062 689.2 1061.8 691.1 1061.7 693 1061.6 694.8 1061.5 696.7 1061.4 698.5 1061.2 700.4 1061.1 702.2 1062.2 704 1060.9 705.8 1060.9 707.6 1060.9 709.3 1060.5 711.1 1060.6 712.8 1060.5 714.5 1060.3 716.1 1060.2 717.8 1060.1 719.4 1060.1 720.9 1060 722.5 1059.8 724 1059.8 725.4 1059.8 726.8 1059.6 728.2 1059.5 729.6 1059.5 730.9 1059.4 732.1 1060.3 734.7 1059.1 737 1058.9 739.2 1058.9 741.2 1058.7 743.1 1058.5 744.8 1057.7 746.5 1058.4 748 1058.3 749.4 1058.2 750.8 1058.1 752.2 1058.1 753.5 1057.9 754.7 1057.8 756 1057.6 757.3 1057.6 758.6 1056.5 760 1057.2 761.4 1057.1 762.9 1057.2 764.5 1055.8 766.2 1056.7 768 1056.7 770 1056.5 771.4 1056.3 772.9 1056 774.4 1056 776 1055.8 777.7 1055.8 779.3 1055.4 781.1 1055.3 782.8 1055.1 784.6 1053.9 786.4 1054.7 788.3 1054.6 790.1 1054.3 792 1054.2 793.9 1054 795.7 1053.7 797.6 1053.5 799.5 1053.3 801.4 1053.1 803.2 1053 805 1052.8 806.9 1052.6 808.6 1052.3 810.4 1052.3 812.1 1051.9 813.8 1051.9 815.4 1051.7 817 1051.5 818.5 1051.3 819.9 1052.3 821.3 1050.9 822.7 1050.9 823.9 1050.5 825.1 1050.3 826.2 1050.3 829.4 1049.7 832 1050.3 833.9 1048.9 835.5 1048.4 836.7 1048.1 837.7 1047.6 838.5 1047.3 839.4 1047.1 840.5 1046.2 841.7 1046.8 843.3 1046.9 844.7 1047.2 846 1047.6 847.2 1048.1 848.6 1048.8 850.1 1049.3 852 1049.6 854.3 1049.7 855.6 1049.8 857 1049.7 858.6 1049.6 860.3 1049.6 862 1049.5 863.9 1049.4 865.7 1049.1 867.7 1049 869.6 1048.9 871.5 1048.8 873.3 1048.5 875.1 1048.3 876.8 1048.4 878.4 1048.2 879.9 1048.1 881.2 1048.1 882.4 1047.9 884.6 1048 885.4 1048.3 885.8 1048.8 886.3 1049.2 887.7 1049.6 890.9 1049.7 891.9 1049.7 892.9 1049.8 894 1049.8 895.1 1049.8 896.3 1049.8 897.6 1049.8 898.9 1049.8 900.2 1049.7 901.6 1049.7 903.1 1049.7 904.5 1049.7 906.1 1049.6 907.6 1049.7 909.2 1049.6 910.9 1049.6 912.5 1049.7 914.2 1049.6 916 1050.6 917.7 1049.7 919.5 1049.7 921.3 1049.5 923.1 1049.4 925 1049.5 926.9 1049.4 928.7 1049.4 930.6 1049.5 932.5 1049.5 934.5 1049.3 936.4 1049.3 938.3 1049.4 940.2 1049.2 942.2 1049.2 944.1 1049.2 946.1 1049.2 948 1049.2 949.9 1049.1 951.8 1049.1 953.7 1049.2 955.6 1049.2 957.5 1049.1 959.4 1048.9 961.3 1049 963.1 1048.9 964.9 1048.9 966.7 1049 968.3 1048.8 969.9 1048.8 971.5 1048.9 973.1 1048.7 974.7 1048.7 976.3 1048.9 977.9 1048.8 979.5 1048.8 981.1 1048.6 982.7 1048.5 984.3 1048.5 985.9 1048.7 987.5 1048.7 989.1 1048.6 990.7 1048.6 992.3 1048.6 993.9 1048.4 995.5 1048.4 997.1 1048.4 998.7 1048.4 1000.4 1048.4 1002 1048.4 1003.6 1048.4 1005.3 1048.3 1006.9 1048.3 1008.6 1048.1 1010.2 1048.2 1011.9 1048.2 1013.6 1048.1 1015.3 1048 1016.9 1048 1018.6 1048 1020.3 1048.1 1022.1 1047.9 1023.8 1048 1025.5 1047.9 1027.3 1047.8 1029 1048 1030.8 1047.8 1032.6 1047.8 1034.4 1048.6 1036.2 1047.6 1038 1047.6 1039.8 1047.7 1041.6 1048.7 1043.5 1047.5 1045.3 1047.6 1047.2 1047.6 1049.1 1047.6 1051 1047.4 1052.5 1047.4 1054.1 1047.5 1055.7 1047.4 1057.3 1047.5 1059 1047.3 1060.7 1047.4 1062.4 1047.3 1064.2 1047.3 1065.9 1047.3 1067.7 1047.4 1069.5 1047.4 1071.4 1047.3 1073.2 1047.3 1075.1 1047.2 1077 1047.2 1078.9 1047.3 1080.8 1048.4 1082.7 1047.4 1084.7 1047.3 1086.6 1047.4 1088.6 1047.2 1090.5 1047.3 1092.5 1047.4 1094.5 1047.1 1096.4 1047.2 1098.4 1047.2 1100.4 1047.2 1102.3 1047.2 1104.3 1047.2 1106.2 1047.2 1108.2 1047.2 1110.1 1047.1 1112 1048.4 1113.9 1047.2 1115.8 1047.1 1117.7 1047.1 1119.6 1047.1 1121.4 1047.1 1123.3 1047.1 1125.1 1047.2 1126.9 1046.1 1128.6 1047 1130.4 1046.9 1132.1 1046.9 1133.8 1047 1135.5 1046.8 1137.1 1046.9 1138.7 1046.8 1140.2 1046.9 1141.8 1046.7 1143.3 1046.7 1144.7 1046.7 1146.1 1046.7 1147.5 1046.6 1148.8 1046.6 1150.1 1046.4 1151.4 1046.5 1152.6 1046.3 1153.7 1046.3 1154.8 1046.2 1155.9 1046.1 1156.9 1046 1157.8 1045.9 1160.5 1045.4 1162.3 1045.1 1163.5 1043.3 1164.2 1042.2 1164.6 1041.2 1165 1039.9 1165.5 1038.8 1166.3 1037.7 1167.4 1036.5 1168.4 1035 1169.5 1033.5 1170.5 1032 1171.6 1030.7 1172.6 1029.3 1173.7 1028.6 1174.7 1028.2 1175.9 1028.5 1177.1 1029.6 1178.3 1031.1 1179.5 1032.7 1180.7 1034.3 1181.9 1035.6 1183.1 1036.3 1184.4 1036.3 1185.7 1035.6 1187 1034.7 1188.4 1033.9 1189.9 1033.3 1191.6 1033.5 1192.8 1033.7 1194 1034.4 1195.3 1035.3 1196.7 1036.1 1198.1 1035.9 1199.5 1038.1 1201 1039.2 1202.5 1040.3 1204.1 1041.1 1205.6 1041.1 1206.9 1042.4 1208.1 1042.8 1209.2 1043.4 1210.2 1043.8 1211.3 1044.4 1212.6 1044.8 1214 1045.1 1215.6 1045.3 1217.5 1045.6 1219.8 1045.8 1222.5 1046 1223.7 1046 1224.9 1046 1226.3 1046 1227.7 1047.4 1229.2 1046 1230.8 1046.2 1232.4 1046 1234.1 1046 1235.8 1046.1 1237.6 1046 1239.4 1046 1241.2 1046 1243.1 1045.9 1244.9 1045.8 1246.8 1044.9 1248.7 1045.5 1250.6 1045.7 1252.4 1045.6 1254.3 1045.5 1256.1 1045.3 1257.9 1044.6 1259.6 1045.1 1261.3 1045 1263 1045 1264.6 1044.9 1266.1 1044.8 1267.6 1045.7 1269 1044.6 1270.3 1044.7 1272.5 1044.4 1274.6 1044.2 1276.5 1044 1278.3 1043.7 1280 1043.5 1281.6 1043.2 1283.1 1043 1284.5 1043.4 1285.9 1042.4 1287.3 1042.1 1288.7 1041.9 1290 1041.7 1291.4 1041.6 1292.7 1041.4 1294.1 1042.3 1295.6 1041.3 1297.3 1041.5 1298.9 1041.4 1300.6 1041.7 1302.2 1041.8 1303.7 1043.1 1305.3 1042.5 1306.9 1042.8 1308.4 1043.2 1310 1043.4 1311.6 1043.8 1313.1 1044.2 1314.7 1044.3 1316.4 1044.6 1318 1044.6 1319.5 1045.5 1321.1 1044.6 1322.6 1044.8 1324.1 1044.7 1325.7 1044.7 1327.2 1044.6 1328.8 1044.5 1330.4 1044.3 1332 1044.2 1333.6 1044.1 1335.2 1043.9 1336.9 1043.7 1338.6 1043.6 1340.4 1043.5 1342.2 1043.1 1343.7 1043 1345.3 1042.8 1346.9 1042.6 1348.7 1042.4 1350.4 1042.2 1352.2 1042 1354.1 1041.6 1355.9 1041.3 1357.8 1041 1359.6 1040.7 1361.4 1040.5 1363.1 1040.1 1364.8 1039.9 1366.4 1040.6 1368 1039.4 1369.4 1039.3 1370.8 1038.9 1372 1038.7 1373.1 1038.6 1376.2 1038.3 1378 1038.1 1379.1 1038.1 1379.9 1038.9 1381 1038.1 1382.5 1037.7 1383.9 1037.2 1385.2 1037 1386.5 1036.8 1387.9 1037.2 1389.2 1038 1390.6 1038.6 1392 1038.8 1393.5 1038.4 1394.9 1036.9 1396.4 1037.1 1398 1036.5 1399.3 1036 1400.6 1035.6 1401.9 1035.2 1403.2 1034.7 1404.6 1034.9 1405.9 1035 1407.2 1035.4 1408.5 1036.2 1410.1 1037.8 1412 1037.4 1413 1037.9 1413.7 1038.3 1414.2 1038.8 1414.9 1039.2 1415.8 1039.8 1417.3 1040.2 1419.4 1040.6 1422.4 1040.9 1426.5 1041.3 1427.5 1041.4 1428.7 1041.4 1429.9 1040.3 1431.1 1041.5 1432.4 1041.5 1433.8 1041.6 1435.2 1041.7 1436.7 1042.9 1438.3 1041.9 1439.8 1041.9 1441.5 1042 1443.2 1042 1444.9 1042.1 1446.6 1042.1 1448.4 1042.1 1450.2 1042.2 1452 1042.3 1453.9 1042.4 1455.7 1042.3 1457.6 1042.5 1459.5 1042.5 1461.4 1042.5 1463.3 1042.7 1465.3 1042.7 1467.2 1042.7 1469.1 1042.8 1471 1042.7 1472.9 1042.7 1474.8 1043 1476.7 1042.9 1478.5 1043 1480.3 1044 1482.1 1042.9 1483.9 1042.9 1485.7 1043.1 1487.4 1043 1489 1043.1 1490.7 1043.2 1492.2 1043.1 1493.8 1043.1 1495.3 1043.2 1496.7 1043.1 1498.7 1043.2 1500.7 1043.2 1502.7 1043.3 1504.6 1043.2 1506.5 1043.1 1508.4 1043.1 1510.2 1043.1 1512 1043 1513.8 1042.8 1515.6 1042.8 1517.3 1042.8 1519.1 1042.7 1520.7 1042.7 1522.4 1042.5 1524 1042.7 1525.7 1042.4 1527.2 1042.4 1528.8 1042.5 1530.3 1042.3 1531.9 1042.3 1533.4 1042.4 1534.8 1042.4 1536.3 1042.2 1537.7 1042.2 1539.1 1042.1 1540.5 1042.3 1541.8 1042.3 1543.2 1042.3 1544.5 1042.5 1546.7 1043.8 1548.7 1042.6 1550.6 1042.8 1552.4 1043.2 1554.1 1043.4 1555.8 1043.7 1557.3 1043.9 1558.9 1044.1 1560.3 1044.5 1561.8 1044.8 1563.3 1045.2 1564.7 1045.6 1566.2 1045.7 1567.7 1046.2 1569.3 1045.8 1570.9 1047.1 1572.6 1047.6 1574.1 1047.9 1575.6 1048.4 1577.1 1048.9 1578.6 1049.2 1580.2 1049.8 1581.8 1049.5 1583.3 1050.9 1584.9 1051.7 1586.5 1052.2 1588 1053.7 1589.6 1053.3 1591.2 1053.9 1592.8 1054.5 1594.3 1055 1595.9 1055.4 1597.5 1055.9 1599 1056.4 1600.5 1056.7 1602 1057.1 1603.5 1057.3 1605.2 1057.6 1606.9 1057.7 1608.6 1057.7 1610.2 1057.9 1611.8 1057.9 1613.4 1057.8 1615 1057.9 1616.6 1057.8 1618.2 1057.5 1619.8 1057.4 1621.4 1057.4 1623 1057 1624.7 1057 1626.3 1056.6 1628.1 1056.4 1629.8 1056.2 1631.6 1056 1633.1 1055.7 1634.6 1055.4 1636.1 1055.1 1637.6 1055 1639.1 1054.6 1640.6 1054.2 1642.1 1053.8 1643.7 1053.4 1645.3 1053.1 1646.8 1052.8 1648.4 1052.4 1650 1052 1651.7 1051.5 1653.3 1051.3 1655 1050.8 1656.7 1050.5 1658.4 1050 1660.1 1049.7 1661.8 1049.5 1663.6 1049.3 1665.4 1049.8 1666.9 1048.7 1668.4 1048.4 1670 1048.3 1671.5 1048.1 1673.1 1047.8 1674.6 1047.6 1676.2 1047.5 1677.8 1047.2 1679.4 1047.9 1681 1046.8 1682.6 1046.7 1684.2 1046.5 1685.9 1046.3 1687.6 1046.4 1689.2 1046.1 1691 1045.9 1692.7 1045.9 1694.5 1045.8 1696.2 1045.6 1698 1045.6 1699.9 1045.4 1701.7 1045.4 1703.6 1045.3 1705.5 1045.3 1707.5 1045.2 1709 1045.1 1710.5 1045.1 1712.1 1043.9 1713.7 1044 1715.4 1045.2 1717.1 1045.2 1718.8 1045.2 1720.6 1045.2 1722.4 1045.4 1724.2 1045.3 1726.1 1045.5 1727.9 1045.5 1729.8 1045.5 1731.6 1045.7 1733.5 1045.7 1735.4 1045.9 1737.2 1045.9 1739.1 1046.8 1740.9 1046.2 1742.7 1046.1 1744.5 1046.1 1746.2 1046.3 1748 1046.3 1749.7 1046.5 1751.3 1046.5 1752.9 1046.5 1754.5 1046.6 1756 1045.5 1757.4 1046.8 1758.8 1046.9 1760.2 1046.8 1761.4 1046.8 1762.6 1046.9 1763.7 1046.9 1766.8 1046.8 1768.9 1046.9 1770.3 1046.8 1771.2 1046.8 1771.8 1046.7 1772.5 1046.4 1773.4 1046.3 1774.8 1046.2 1776.9 1046.1 1780 1045.8 1781.1 1045.7 1782.3 1045.6 1783.6 1045.6 1784.9 1045.6 1786.3 1045.5 1787.8 1045.5 1789.4 1045.4 1791 1045.2 1792.6 1045.2 1794.3 1045.1 1796 1045.1 1797.8 1044.9 1799.6 1043.8 1801.4 1044.7 1803.3 1044.7 1805.1 1044.6 1807 1044.6 1808.9 1044.3 1810.8 1044.3 1812.7 1044.1 1814.6 1044.3 1816.4 1043.4 1818.3 1044 1820.1 1043.9 1821.9 1043.9 1823.7 1043.7 1825.4 1043.7 1827.1 1043.8 1828.8 1043.6 1830.4 1043.5 1831.9 1043.6 1833.4 1043.6 1834.8 1043.6 1836.2 1044.3 1838.4 1043.5 1840.5 1043.6 1842.6 1043.5 1844.6 1043.4 1846.5 1043.4 1848.3 1043.4 1850.1 1043.6 1851.8 1044.6 1853.5 1043.5 1855.2 1044.8 1856.8 1043.8 1858.3 1043 1859.8 1044 1861.3 1044 1862.8 1044.2 1864.2 1043.3 1865.7 1044.5 1867.1 1044.6 1868.5 1044.7 1869.9 1044.9 1871.9 1045.2 1873.8 1046.3 1875.6 1045.6 1877.3 1045.9 1879 1046.3 1880.6 1046.7 1882.2 1047 1883.7 1047.4 1885.2 1048 1886.7 1048.4 1888.2 1048.8 1889.6 1049.3 1891 1050 1892.4 1050.5 1893.9 1051.2 1895.3 1052 1896.6 1052.9 1897.9 1053.7 1899.2 1054.5 1900.4 1055.4 1901.6 1056.4 1902.9 1057.3 1904.1 1058.4 1905.3 1059.5 1906.6 1060.6 1907.9 1061.9 1909.3 1063.2 1910.3 1064.3 1911.4 1065.5 1912.5 1066.4 1913.6 1067.9 1914.7 1069 1915.9 1070.5 1917 1071.8 1918.2 1073.1 1919.3 1074.6 1920.5 1076 1921.6 1077.4 1922.8 1078.9 1923.9 1080.1 1925 1081.3 1926 1082.5 1927 1083.8 1928 1084.9 1929 1085.7 1930.5 1087 1931.9 1088.3 1933.2 1089.4 1934.5 1090.3 1935.7 1091.1 1937 1092 1938.1 1092.6 1939.3 1093.3 1940.5 1094 1941.7 1094.8 1943 1095.4 1944.4 1096.3 1945.8 1096.8 1947.2 1097.2 1948.6 1097.8 1950 1098 1951.5 1098.5 1952.9 1099.3 1954.3 1100.1 1955.7 1101.1 1957.1 1102.7 1957.9 1103.5 1958.7 1104.6 1959.5 1105.7 1960.3 1106.9 1961.1 1108.1 1961.9 1109.7 1962.7 1111 1963.5 1112.5 1964.3 1114.1 1965.1 1115.5 1965.9 1117 1966.6 1118.6 1967.4 1120.3 1968.2 1121.8 1968.9 1123.4 1969.7 1124.9 1970.4 1126.4 1971.1 1127.9 1971.8 1129.4 1972.5 1130.9 1973.1 1132.5 1973.8 1134 1974.4 1135.5 1975.1 1137 1975.7 1138.5 1976.3 1140 1976.9 1141.6 1977.5 1143.1 1978.1 1144.7 1978.7 1146.3 1979.3 1148 1979.9 1149.5 1980.6 1151.2 1981.2 1152.7 1981.8 1154.4 1982.4 1155.9 1983 1157.4 1983.5 1159 1984.1 1160.7 1984.7 1162.2 1985.3 1163.9 1985.9 1165.6 1986.4 1167.3 1987 1168.9 1987.6 1170.5 1988.2 1172.3 1988.8 1174.1 1989.3 1175.5 1989.9 1177.3 1990.4 1178.7 1991 1180.3 1991.5 1181.7 1992.1 1183.2 1992.6 1184.4 1993.1 1185.6 1993.6 1186.8 1994.6 1189 1995.5 1191 1996.4 1192.6 1997.2 1194.3 1998.1 1195.5 1998.9 1196.8 1999.7 1198 2000.4 1198.9 2001.2 1200.1 2002 1200.9 2003.5 1202.6 2004.9 1203.7 2006.3 1204.5 2007.7 1204.8 2009.1 1204.2 2009.9 1203.8 2010.7 1202.9 2011.5 1201.8 2012.3 1200.8 2013.1 1199.2 2013.9 1197.8 2014.6 1196.2 2015.4 1194.4 2016.1 1192.5 2016.5 1191.1 2017 1189.8 2017.4 1188.1 2017.8 1186.3 2018.2 1184.4 2018.6 1182.8 2019 1180.9 2019.4 1179 2019.8 1177.1 2020.1 1175.5 2020.5 1173.9 2020.9 1172.5 2021.3 1171.1 2021.7 1169.9 2022.8 1167.8 2023.7 1166.5 2024.8 1165.8 2025.9 1165.3 2027.3 1165 2028.7 1165 2030.4 1165.4 2032.2 1166.3 2034 1166.7 2035.7 1166.7 2037.2 1165.8 2037.9 1164.9 2038.6 1164.1 2039.2 1162.9 2039.8 1161.5 2040.4 1160.1 2041 1158.4 2041.5 1156.7 2042.1 1155 2042.6 1153.3 2043.1 1151.4 2043.7 1149.5 2044.2 1147.6 2044.6 1146 2044.9 1144.6 2045.2 1143 2045.6 1141.3 2045.9 1139.7 2046.2 1137.9 2046.5 1136.2 2046.8 1134.4 2047.1 1132.8 2047.4 1130.8 2047.7 1129 2048 1127.2 2048.3 1125.7 2048.7 1124.1 2049 1122.4 2049.4 1120.8 2049.8 1119.5 2050.3 1117.6 2050.9 1115.8 2051.4 1114.2 2052 1112.6 2052.6 1111 2053.2 1109.4 2053.8 1108 2054.4 1106.6 2055.1 1105.2 2055.8 1103.8 2056.6 1102.3 2057.4 1101.2 2058.2 1099.9 2059.2 1098.5 2060.2 1097 2061.2 1095.7 2062.3 1094.4 2063.4 1093.3 2064.5 1091.9 2065.7 1090.7 2067 1089.8 2068.2 1088.6 2069.6 1087.5 2070.9 1086.7 2072.3 1085.6 2073.6 1085 2075.1 1084.1 2076.6 1083.4 2078.1 1082.6 2079.7 1082.1 2081.3 1081.6 2083 1080.8 2084.6 1080.5 2086.2 1080.1 2087.7 1079.5 2089.2 1079.1 2090.7 1079 2092 1078.8 2093.8 1078.4 2095.5 1078.3 2097.2 1078.4 2098.8 1078.4 2100.3 1078.5 2101.7 1078.8 2103.2 1079.3 2104.6 1079.9 2106 1080.5 2107.1 1081.3 2108.3 1082.2 2109.4 1083 2110.4 1084.1 2111.5 1085.3 2112.5 1086.4 2113.5 1087.8 2114.5 1089.2 2115.5 1090.7 2116.4 1092.3 2117.3 1094 2117.9 1095.3 2118.5 1096.9 2119.1 1098.4 2119.6 1099.9 2120.2 1101.7 2120.7 1103.3 2121.3 1105.1 2121.8 1107.1 2122.3 1108.7 2122.8 1110.5 2123.3 1112.2 2123.8 1113.8 2124.3 1115.4 2124.7 1116.8 2125.2 1118.1 2125.7 1119.4 2126.6 1121.5 2127.5 1123.2 2128.4 1124.6 2129.3 1125.9 2130.1 1126.9 2131 1127.9 2131.8 1128.6 2132.7 1129.2 2134 1130 2135.2 1130.2 2136.4 1130.1 2137.8 1129.6 2139.7 1129.3 2141 1129 2142.4 1128.6 2143.9 1127.9 2145.5 1127.4 2147.2 1126.7 2148.8 1126.2 2150.5 1125.8 2152.2 1125.6 2153.8 1125.5 2155.2 1125.9 2156.6 1126.2 2157.9 1126.7 2159.3 1127.3 2160.6 1128.2 2162 1128.9 2163.4 1129.6 2164.8 1130.4 2166.3 1131.4 2167.8 1132 2169.1 1132.8 2170.4 1133.5 2171.8 1134.3 2173.1 1135.2 2174.5 1136.1 2175.9 1137 2177.3 1137.8 2178.8 1138.8 2180.2 1139.5 2181.7 1140 2183.2 1140.2 2184.7 1140.4 2186.1 1140.4 2187.6 1140.4 2189.1 1139.9 2190.6 1139.5 2192.1 1138.9 2193.6 1138.2 2195.1 1137.6 2196.7 1136.8 2198.2 1136.2 2199.8 1135.6 2201.3 1135 2202.9 1134.5 2204.4 1134.2 2206.1 1134.2 2207.8 1133.9 2209.5 1133.8 2211.3 1133.6 2213 1133.7 2214.8 1133.5 2216.5 1133.6 2218.2 1133.7 2219.8 1134 2221.3 1134.1 2222.8 1134.5 2224.1 1135 2225.7 1135.4 2227.2 1136.1 2228.6 1137.1 2229.8 1137.9 2231 1138.9 2232.1 1140.1 2233.2 1141.4 2234.2 1142.9 2235.3 1144.8 2235.9 1145.9 2236.6 1147.2 2237.2 1148.7 2237.7 1150.4 2238.3 1152 2238.9 1153.7 2239.4 1155.3 2239.9 1157.3 2240.5 1159 2241 1160.6 2241.5 1162.1 2242.1 1163.7 2242.6 1164.9 2243.1 1166.2 2243.7 1167.2 2245 1169.2 2246.2 1170.6 2247.4 1171.3 2248.7 1171.7 2250.3 1171.8 2252.2 1171.4 2253.3 1170.9 2254.6 1170.3 2255.9 1169.4 2257.3 1168.4 2258.7 1167.1 2260.2 1166 2261.8 1164.7 2263.3 1163.6 2264.8 1162.8 2266.3 1161.8 2267.7 1161.3 2269 1161.1 2270.5 1160.9 2272 1161.2 2273.5 1161.6 2274.9 1162.5 2276.3 1163.2 2277.7 1164.3 2279.1 1165.3 2280.4 1166.4 2281.8 1167.5 2283.1 1168.5 2284.2 1169.5 2285.4 1170.6 2286.5 1171.6 2287.6 1172.6 2288.8 1174 2289.9 1175 2291 1176.5 2292 1177.7 2293.1 1179 2294 1180.4 2294.9 1181.6 2295.8 1183 2296.6 1184.3 2297.3 1185.7 2298 1187 2298.6 1188.1 2299.1 1189.6 2299.7 1191 2300.2 1192.4 2300.7 1194.1 2301.2 1195.8 2301.7 1197.4 2302.2 1199.6 2302.8 1201.9 2303.1 1203 2303.4 1204.4 2303.7 1205.8 2304 1207.4 2304.4 1209 2304.7 1210.5 2305 1212.1 2305.3 1214 2305.6 1215.7 2306 1217.4 2306.3 1219.2 2306.6 1220.9 2306.9 1222.8 2307.2 1224.7 2307.5 1226.4 2307.8 1228.1 2308.1 1229.8 2308.4 1231.5 2308.7 1233.3 2309 1234.9 2309.3 1236.3 2309.5 1237.8 2309.8 1239.4 2310.2 1241.3 2310.5 1243.3 2310.9 1245.1 2311.2 1247 2311.5 1248.7 2311.8 1250.5 2312.1 1252.4 2312.4 1253.9 2312.7 1255.7 2313 1257.2 2313.3 1258.7 2313.5 1260 2313.8 1261.5 2314 1262.8 2314.3 1263.8 2314.5 1265 2315 1267.6 2315.4 1269.7 2315.7 1271.3 2316 1272.5 2316.3 1273.4 2316.8 1273.8 2317.5 1273.5 2318.3 1272.5 2319.2 1270.6 2320.1 1268.9 2321 1267 2321.6 1265.8 2322.3 1264.2 2323 1262.8 2323.7 1261.4 2324.4 1259.7 2325 1258.2 2325.7 1256.4 2326.3 1254.9 2326.8 1253.4 2327.4 1251.7 2328 1249.9 2328.5 1248.2 2329.1 1246.7 2329.6 1245.1 2330.1 1244 2331 1241.9 2331.8 1240.4 2332.6 1239.2 2333.4 1238.1 2334.6 1236.9 2335.8 1236.3 2337 1235.9 2338.3 1235.1 2339.5 1234.7 2340.4 1234.5 2340.7 1235.7 2340.8 1237"/>
<path class="cv" stroke="#0070c0" d="M201.5 590.6L202.4 590.6 203.3 590.6 204.3 590.5 205.3 590.5 206.4 590.6 207.5 590.5 208.7 590.5 209.9 590.7 211.2 590.4 212.5 591.8 213.9 590.5 215.3 590.5 216.7 590.6 218.2 590.5 219.7 590.4 221.3 591.2 222.9 590.3 224.5 590.3 226.2 590.5 227.9 590.3 229.6 590.4 231.3 590.5 233.1 590.3 234.9 590.3 236.8 590.4 238.6 591.1 240.5 590.3 242.4 590.3 244.3 590.2 246.2 590.2 248.1 590.3 250.1 590.3 252.1 590.1 254.1 590.3 256.1 590.1 258.1 590.2 260.1 590.2 262.1 590 264.1 590.1 266.2 590.1 268.2 588.8 270.2 589 272.3 590.1 274.3 590.1 276.3 589.9 278.4 590.1 280.4 590.1 282.4 589.9 283.9 590 285.3 590.8 286.8 590 288.4 589.9 289.9 589.9 291.5 589.9 293.1 590 294.7 589.9 296.4 589.9 298 589.8 299.7 589.8 301.4 589.9 303.1 589.8 304.8 589.8 306.5 589.7 308.3 589.8 310 589.6 311.8 589.8 313.6 589.8 315.4 589.6 317.2 589.5 319 589.6 320.8 589.5 322.7 589.6 324.5 589.6 326.3 590.4 328.2 589.6 330 590.7 331.8 589.6 333.7 589.4 335.5 589.5 337.4 589.3 339.2 589.4 341.1 589.3 342.9 589.4 344.7 589.3 346.6 589.2 348.4 589.2 350.2 589.4 352 589.3 353.8 588.5 355.6 589.3 357.4 589.2 359.2 589.2 360.9 589.2 362.7 589.2 364.4 589.2 366.1 589.2 367.8 589.2 369.5 589.2 371.2 589.2 372.8 589.2 374.4 589.1 376.1 589.2 377.6 589.1 379.2 589.1 380.8 589.2 382.3 589.2 383.8 589.2 385.3 589.1 386.7 589.3 388.1 589 389.5 589.2 390.9 589.1 392.2 589.1 393.5 589.2 394.8 589.3 397.2 589.1 399.5 589.3 401.7 589.3 403.8 589.4 405.8 589.4 407.7 589.5 409.5 589.6 411.3 589.7 413 589.6 414.6 589.7 416.1 589.9 417.7 589.9 419.1 590 420.5 590 421.9 590.2 423.3 590.3 424.6 590.3 426 590.4 427.3 590.5 428.7 590.5 430 590.7 431.3 589.5 432.7 590.8 434.1 591 435.6 591.1 437 591.1 438.5 591.2 440.1 591.4 441.7 591.4 443.4 591.5 445.2 591.8 447.1 591.7 449 591.9 451 592.1 452.4 592 453.8 592.2 455.3 592.1 456.7 592.3 458.2 592.3 459.6 592.3 461.1 592.5 462.6 592.7 464.1 592.6 465.6 592.8 467.2 593 468.7 592.9 470.2 593 471.8 593.1 473.4 593.1 474.9 593.3 476.5 593.3 478.1 593.4 479.8 594.7 481.4 594.8 483 593.7 484.7 593.7 486.3 593.8 488 594.1 489.7 594 491.4 594.2 493.1 594.1 494.8 593.1 496.5 594.5 498.3 594.6 500 594.6 501.8 594.7 503.6 594.9 505.3 594.9 507.1 595 508.9 595.1 510.8 595.2 512.6 595.2 514.4 595.3 516.3 595.3 518.1 595.4 520 595.7 521.9 595.7 523.8 595.8 525.7 595.7 527.6 596 529.5 595.9 531.5 596 533.4 596.1 535.4 596.1 536.9 596.1 538.4 596.3 539.9 596.4 541.4 597.2 542.9 596.5 544.4 596.5 545.9 596.6 547.5 596.7 549 596.8 550.6 596.8 552.1 596.9 553.7 596.9 555.3 596.9 556.9 597.1 558.5 597.1 560.1 597 561.7 597.3 563.3 597.3 565 597.3 566.6 597.2 568.2 597.5 569.9 597.5 571.5 597.5 573.2 597.6 574.9 597.6 576.5 597.6 578.2 597.7 579.9 597.8 581.6 597.8 583.3 597.9 585 597.9 586.7 597.8 588.4 598.1 590.1 598 591.8 598.2 593.5 598.1 595.3 598.3 597 598.3 598.7 598.3 600.4 598.3 602.2 598.5 603.9 598.6 605.7 598.5 607.4 598.5 609.2 598.6 610.9 598.7 612.7 598.6 614.4 598.7 616.2 598.7 617.9 598.8 619.7 598.9 621.4 598.8 623.2 599.1 624.9 598.9 626.7 599 628.5 599.2 630.2 599.2 632 599.3 633.7 599.2 635.5 599.3 637.3 599.3 639 599.4 640.8 599.5 642.5 599.5 644.3 599.5 646 600.5 647.8 599.7 649.4 599.6 651.1 599.7 652.7 599.7 654.3 599.7 656 599.8 657.6 599.7 659.2 599.9 660.8 598.8 662.5 600 664.1 600 665.8 600 667.4 600.1 669 600.1 670.7 600.2 672.3 600.1 673.9 600.3 675.6 600.2 677.2 600.3 678.9 600.4 680.5 601.3 682.2 600.3 683.8 600.5 685.5 600.4 687.1 600.6 688.8 599.5 690.4 600.6 692.1 600.5 693.8 600.6 695.4 600.6 697.1 600.6 698.8 600.7 700.4 600.8 702.1 600.8 703.8 601 705.5 601 707.1 600.9 708.8 600.9 710.5 602.3 712.2 601.1 713.9 601 715.6 601 717.3 601.1 719 601.1 720.7 601.3 722.4 601.3 724.1 601.2 725.8 601.2 727.5 601.2 729.3 601.3 731 601.3 732.7 601.4 734.5 601.5 736.2 601.4 737.9 601.5 739.7 601.4 741.4 601.6 743.2 601.6 744.9 601.5 746.7 601.5 748.5 600.9 750.2 601.6 752 601.6 753.8 601.5 755.6 601.6 757.4 601.6 759.1 601.7 760.9 601.8 762.7 601.7 764.6 601.7 766.4 603 768.2 601.8 770 601 771.6 601.7 773.2 601.8 774.8 601.8 776.4 601.9 778 601.8 779.6 602 781.2 602 782.8 601.8 784.4 602 786.1 602 787.7 601.9 789.3 602 791 602 792.6 602 794.3 602 795.9 601.8 797.6 601.8 799.3 601.9 800.9 602 802.6 601.8 804.3 602 805.9 601.8 807.6 601.9 809.3 602 811 601.9 812.7 602 814.3 602 816 601.9 817.7 602 819.4 601.9 821.1 601.8 822.8 601.9 824.5 601.9 826.2 601 828 601.9 829.7 601.8 831.4 601.8 833.1 601.8 834.8 601.8 836.5 601.9 838.2 601.8 840 601.9 841.7 601.8 843.4 601.9 845.1 601.9 846.9 601.8 848.6 601.7 850.3 601.9 852 601.8 853.8 601.8 855.5 601.9 857.2 601.8 859 601.7 860.7 601.8 862.4 601.7 864.1 601.8 865.9 601.7 867.6 601.7 869.3 601.7 871.1 601.6 872.8 601.6 874.5 601.7 876.2 601.7 878 600.7 879.7 601.6 881.4 601.6 883.1 601.5 884.9 600.4 886.6 601.6 888.3 601.6 890 601.5 891.7 601.4 893.5 601.5 895.2 601.4 896.9 601.6 898.6 601.3 900.3 601.3 902 601.3 903.7 601.3 905.4 601.4 907.1 601.4 908.8 601.4 910.5 600.5 912.2 601.2 913.9 601.3 915.6 601.2 917.3 601.3 919 601.1 920.7 601.3 922.5 601.1 924.2 601 925.9 601 927.6 601 929.4 601 931.1 601.1 932.9 601 934.6 600.9 936.3 601 938.1 601 939.8 601 941.6 600.8 943.3 600.9 945.1 601.6 946.9 600.7 948.6 600.8 950.4 600.7 952.1 600.5 953.9 600.5 955.6 600.6 957.4 600.6 959.2 600.4 960.9 600.6 962.7 600.4 964.4 600.3 966.2 600.4 968 600.3 969.7 601.1 971.5 601.5 973.2 600.3 975 600.1 976.7 600.1 978.5 600.3 980.2 600.2 982 600 983.7 600.2 985.5 599.9 987.2 600 988.9 600 990.7 600 992.4 599.7 994.1 599.8 995.9 599.7 997.6 599.7 999.3 600.6 1001 599.6 1002.7 599.7 1004.4 599.7 1006.1 599.5 1007.8 599.6 1009.5 599.5 1011.2 599.4 1012.8 599.5 1014.5 599.4 1016.2 600.3 1017.8 599.2 1019.5 599.3 1021.1 599.2 1022.8 599.2 1024.4 599.1 1026 599 1027.7 599.1 1029.3 599 1030.9 599 1032.5 598.9 1034.1 598.9 1035.6 598.9 1037.2 598.9 1038.8 598.8 1040.3 598.8 1041.9 598.8 1043.4 598.6 1045 598.6 1046.5 598.6 1048 598.5 1049.5 598.4 1051 598.6 1053 598.3 1054.9 598.3 1056.9 598.3 1058.9 598.4 1060.9 598.4 1062.9 598.3 1064.8 598.1 1066.8 598.2 1068.8 598.1 1070.8 598.1 1072.8 598.1 1074.8 598 1076.7 598.1 1078.7 598 1080.7 598.1 1082.7 597.8 1084.6 597.8 1086.6 597.8 1088.5 596.7 1090.5 597.7 1092.4 597.8 1094.4 597.7 1096.3 596.6 1098.2 597.6 1100.1 597.6 1102 597.6 1103.8 597.5 1105.7 597.5 1107.6 596.8 1109.4 597.6 1111.2 597.4 1113 597.4 1114.8 597.3 1116.6 597.4 1118.3 597.3 1120.1 597.2 1121.8 597.3 1123.5 597.1 1125.2 597.2 1126.9 597.1 1128.5 597.2 1130.1 597 1131.7 596.9 1133.3 596.9 1134.8 596.8 1136.3 596.7 1137.8 596.8 1139.3 596.7 1140.8 596.7 1142.2 596.6 1143.6 596.6 1144.9 596.5 1146.3 596.5 1147.6 596.3 1148.8 596.3 1150.1 596.2 1151.3 596.2 1152.4 596 1153.6 595.9 1154.7 595.8 1155.8 595.8 1156.8 595.6 1157.8 595.5 1161.6 594.2 1164.6 594.4 1167 593.4 1168.8 592.4 1170.1 591.6 1171 590.7 1171.7 590.6 1172.2 588.8 1172.7 587.8 1173.2 587.3 1173.8 586.7 1174.7 586.3 1176.6 585.2 1178 586.9 1179.2 587.8 1180.4 588.8 1181.6 589.4 1183.1 590.8 1184.5 590.2 1186 588.9 1187.5 589.7 1189 589.3 1190.7 589.1 1192.5 589 1194.4 589.2 1195.5 589.4 1196.5 589.8 1197.3 590.4 1198.1 591.1 1199 591.5 1200 592.9 1201.3 594.1 1203 593.4 1205.2 594 1207.9 594.4 1211.2 594.8 1212.3 595 1213.5 595 1214.7 595.1 1216 595 1217.5 595.1 1218.9 595.2 1220.5 595.2 1222 595.2 1223.7 595.3 1225.4 595.4 1227.1 595.3 1228.9 595.5 1230.7 595.5 1232.6 595.6 1234.4 595.6 1236.3 595.5 1238.3 595.6 1240.2 595.4 1242.1 594.6 1244.1 595.5 1246 595.5 1247.9 595.6 1249.9 595.6 1251.8 595.5 1253.7 596.5 1255.6 595.5 1257.4 596.4 1259.2 596.3 1261 595.6 1262.8 595.5 1264.5 595.4 1266.1 596.4 1267.7 596.7 1269.2 595.5 1270.7 595.6 1272.1 595.7 1273.5 595.7 1274.7 595.6 1275.9 595.7 1278.6 595.7 1280.7 595.7 1282.4 595.8 1283.7 595.7 1284.7 595.9 1285.6 595.9 1286.3 595.1 1287.1 594.9 1288 596 1289 596.1 1290.3 596 1292 596.1 1294.1 596.1 1296.7 596.2 1300 596.2 1301.1 596.2 1302.3 596.1 1303.5 596.2 1304.7 597.2 1306 596.2 1307.3 596.1 1308.7 596.3 1310.1 596.2 1311.5 596.2 1313 595 1314.5 596.2 1316.1 596.2 1317.6 596.3 1319.2 596.1 1320.9 596.3 1322.5 596.3 1324.2 596.1 1325.9 596.2 1327.6 595.4 1329.4 596.1 1331.2 596.1 1332.9 596.2 1334.7 596.1 1336.6 596 1338.4 596.1 1340.2 596.1 1342.1 596 1343.9 596 1345.8 596.2 1347.7 596.2 1349.6 596 1351.5 596.1 1353.3 596.2 1355.2 596.1 1357.1 596.1 1359 596.9 1360.9 596.1 1362.8 596.1 1364.6 596.1 1366.5 596.1 1368.3 596.1 1370.2 596.1 1372 596.1 1373.8 595.3 1375.6 596.2 1377.4 596 1379.1 596.1 1380.9 596.3 1382.6 596.2 1384.3 596.2 1386 596.1 1387.7 596.3 1389.3 596.2 1391 596.4 1392.7 596.4 1394.4 596.4 1396.1 596.4 1397.7 596.3 1399.4 596.5 1401.1 596.5 1402.7 596.4 1404.4 596.5 1406.1 596.4 1407.7 596.6 1409.4 596.7 1411.1 596.7 1412.7 596.7 1414.4 596.8 1416.1 596.7 1417.7 597.9 1419.4 597.7 1421.1 596.9 1422.8 597.1 1424.4 596.9 1426.1 597 1427.8 597.1 1429.4 597.2 1431.1 596.1 1432.8 597.2 1434.5 597.3 1436.1 598.2 1437.8 597.2 1439.5 597.4 1441.2 597.3 1442.9 597.4 1444.6 597.4 1446.3 597.4 1448 597.4 1449.7 597.6 1451.4 597.6 1453.1 598.8 1454.8 597.5 1456.5 597.7 1458.2 597.7 1459.9 597.7 1461.7 597.7 1463.4 597.7 1465.1 597.6 1466.9 597.5 1468.6 597.7 1470.3 597.6 1471.9 597.6 1473.7 597.5 1475.4 597.6 1477.1 597.4 1478.9 597.5 1480.7 597.5 1482.5 597.5 1484.4 597.3 1486.2 598.6 1488.1 597.2 1489.9 597.2 1491.8 596.3 1493.7 597.2 1495.6 597 1497.5 597 1499.4 597.2 1501.3 597.1 1503.2 597 1505.1 596.8 1507.1 596.9 1509 596.8 1510.9 595.9 1512.8 596.7 1514.7 596.7 1516.5 596.6 1518.4 596.6 1520.3 596.4 1522.1 596.3 1523.9 596.3 1525.8 596.3 1527.6 596.3 1529.3 596.2 1531.1 596.8 1532.8 596 1534.5 596 1536.2 596 1537.9 595.9 1539.5 595.8 1541.1 595.8 1542.7 595.9 1544.2 595.7 1545.7 595.7 1547.2 594.4 1548.6 595.7 1550 595.6 1551.4 595.7 1552.7 595.5 1554 595.6 1555.2 595.7 1556.4 595.7 1557.5 595.6 1558.6 595.7 1562.3 595.8 1565.3 595.7 1567.9 595.9 1569.9 595.9 1571.6 596 1572.9 596.3 1574 596.5 1574.9 596.6 1575.8 596.9 1576.6 597.1 1577.4 597.6 1578.4 597.8 1579.6 598.1 1581 598.4 1582.6 598.9 1584.1 599.4 1585.6 600.7 1587.1 600.4 1588.6 600.9 1590 601.6 1591.5 601.2 1593.1 602.8 1594.6 603.5 1596.2 603.9 1597.9 604.6 1599.7 605.1 1601.5 605.6 1603.5 607.2 1604.9 606.2 1606.3 606.5 1607.7 606.9 1609.2 607 1610.6 608.2 1612.2 607.8 1613.7 608 1615.3 608.3 1616.9 608.5 1618.5 608.8 1620.2 608.9 1621.8 609.3 1623.5 609.4 1625.2 609.7 1626.9 609.8 1628.6 609.9 1630.4 610.1 1632.1 610.1 1633.8 610.4 1635.6 610.3 1637.3 611.5 1638.8 610.3 1640.3 610.1 1641.8 610.2 1643.3 610.1 1644.8 609.8 1646.3 609.6 1647.8 609.6 1649.3 609.3 1650.8 609 1652.3 607.6 1653.8 608.6 1655.4 608.2 1656.9 607.9 1658.5 607.6 1660.2 607.4 1661.8 607 1663.5 606.8 1665.3 606.8 1667 606.5 1668.8 606.2 1670.7 606.3 1672.6 606.1 1674.6 606 1676.6 606.1 1678 606 1679.5 606.1 1681.1 606.2 1682.6 606 1684.3 606.3 1685.9 606.3 1687.6 606.2 1689.4 606.5 1691.1 606.4 1692.9 606.5 1694.7 606.7 1696.6 606.9 1698.4 607.1 1700.3 607 1702.1 607.2 1704 607.4 1705.9 606.3 1707.7 607.7 1709.6 607.8 1711.4 608 1713.3 606.9 1715.1 608.4 1716.9 608.3 1718.7 608.5 1720.4 608.6 1722.1 608.8 1723.8 609 1725.5 609.1 1727.1 610.2 1728.6 609.3 1730.1 609.4 1731.6 609.4 1733 609.7 1734.3 609.5 1735.6 609.6 1738.1 609.8 1740.4 609.7 1742.6 609.9 1744.6 609.8 1746.5 609.8 1748.3 609.8 1750 609.7 1751.6 609.6 1753.1 608.4 1754.5 609.5 1755.9 609.4 1757.2 609.4 1758.6 609.2 1759.8 609 1761.1 609 1762.4 609 1763.7 609 1765.8 608.7 1767.5 608.8 1769.1 608.6 1770.5 608.5 1771.8 608.4 1773.2 608.3 1774.6 608 1776.2 607.9 1777.9 607.6 1780 607.3 1781.3 607.1 1782.7 607 1784.1 606.6 1785.5 606.5 1787 606 1788.5 605.9 1790 605.6 1791.6 604.2 1793.3 604.8 1794.9 604.7 1796.7 604.1 1798.4 603.8 1800.3 603.5 1802.1 603.3 1804.1 603 1806.1 602.5 1808.1 602.3 1809.5 601.3 1811 602.1 1812.5 603.1 1814.1 601.8 1815.6 601.6 1817.3 601.3 1818.9 601.1 1820.6 600.9 1822.3 600.8 1824 600.7 1825.7 600.5 1827.4 600.2 1829.2 600.1 1831 600.1 1832.8 599.8 1834.5 599.6 1836.3 599.6 1838.1 599.6 1839.9 600.4 1841.6 599.3 1843.4 599.2 1845.2 599.1 1846.9 598.9 1848.6 598.8 1850.3 598.7 1852 598.5 1853.7 599.3 1855.4 598.5 1857.2 598.4 1859 598.4 1860.7 598.3 1862.5 598.3 1864.3 598.2 1866 598 1867.8 598.2 1869.6 599.2 1871.4 598 1873.1 598.1 1874.8 598 1876.6 598 1878.3 597.8 1880 597.9 1881.6 597.9 1883.3 598 1884.9 598 1886.5 597.9 1888 598.1 1889.5 598 1891 598.1 1892.4 598.2 1894.4 598.2 1896.4 598.2 1898.3 598.3 1900.2 598.6 1901.9 598.6 1903.7 598.8 1905.4 598.9 1907 599.1 1908.7 599.2 1910.2 599.6 1911.8 599.7 1913.3 600 1914.8 600.2 1916.2 600.4 1917.7 600.5 1919.1 600.8 1920.5 601.1 1922.4 601.4 1924.2 601.7 1926 602.2 1927.6 602.7 1929.2 603.1 1930.7 603.6 1932.2 604 1933.7 604.4 1935.3 604.9 1936.9 605.2 1938.5 605.4 1940.2 605.7 1941.7 605.9 1943.2 605.8 1944.7 605.8 1946.2 606 1947.7 605.7 1949.2 605.7 1950.8 605.7 1952.3 605.6 1953.9 605.6 1955.6 605.4 1957.3 605.3 1959 605.3 1960.8 605.1 1962.7 605.1 1964.1 605.1 1965.6 605.3 1967.2 605.3 1968.8 605.2 1970.4 605.3 1972.1 605.2 1973.8 605.1 1975.5 605.2 1977.3 605.1 1979 605.3 1980.8 605.1 1982.5 605.4 1984.2 605.4 1985.9 605.4 1987.5 605.5 1989.1 605.5 1990.7 605.6 1992.2 605.9 1993.6 606 1995.5 606.3 1997.3 606.7 1999.1 607.1 2000.8 607.6 2002.5 608.2 2004.1 608.7 2005.7 609.4 2007.3 609.9 2008.8 610.5 2010.3 611 2011.8 611.5 2013.3 611.7 2014.7 612 2016.1 612.3 2017.8 612.2 2019.4 612.1 2020.9 611.8 2022.4 611.5 2023.8 611.1 2025.2 610.5 2026.6 610.1 2028.1 609.6 2029.6 609.1 2031.2 608.7 2032.9 608.6 2034.4 608.2 2035.9 608.2 2037.5 607.9 2039.2 607.7 2040.9 607.5 2042.6 607.6 2044.3 607.4 2046 607.2 2047.8 607.1 2049.4 607.2 2051 607.1 2052.6 607 2054 607.1 2055.4 607.1 2057.3 607.4 2058.9 607.6 2060.4 608.1 2061.8 608.5 2063.1 609 2064.5 609.5 2066 610.2 2067.6 610.6 2069.5 610.8 2070.8 610.9 2072.2 611.2 2073.7 611.1 2075.2 611.2 2076.8 611.5 2078.4 611.5 2080.1 611.6 2081.7 611.6 2083.4 611.6 2085.1 611.5 2086.8 611.6 2088.6 611.4 2090.3 611.5 2092 611.4 2093.6 611.2 2095.3 611.1 2096.9 611.1 2098.6 610.8 2100.3 610.7 2102.1 610.4 2103.8 610.2 2105.5 609.8 2107.3 609.7 2109 609.3 2110.7 609.2 2112.4 609 2114.1 608.9 2115.7 608.7 2117.3 608.5 2119 608.3 2120.7 608.3 2122.3 608.3 2124 608.3 2125.6 608.2 2127.2 608.2 2128.8 608 2130.4 608.2 2132 608.2 2133.6 608.2 2135.1 608.3 2136.7 608.4 2138.2 608.3 2139.7 608.5 2141.5 608.6 2143.2 608.8 2144.9 609 2146.7 609 2148.4 609.3 2150.1 609.6 2151.7 609.7 2153.3 610.1 2154.9 610.4 2156.5 610.8 2158 611.1 2159.4 611.4 2161 611.8 2162.6 612.4 2164 612.9 2165.4 613.3 2166.8 613.7 2168.1 614.3 2169.5 615 2170.8 616 2172.1 616.7 2173.5 617.7 2174.6 618.6 2175.7 619.6 2176.7 620.8 2177.8 621.9 2178.9 623 2180 624.3 2181 625.5 2182.1 626.8 2183.2 628.1 2184.3 629.2 2185.3 630.6 2186.4 631.9 2187.5 633.4 2188.5 634.5 2189.5 635.8 2190.5 637.2 2191.5 638.3 2192.5 639.8 2193.5 641.1 2194.5 642.6 2195.6 643.9 2196.6 645.1 2197.6 646.6 2198.6 647.9 2199.6 649 2200.6 650.4 2201.6 651.6 2202.8 652.9 2204 654 2205.2 655.5 2206.4 656.7 2207.6 657.8 2208.8 659.2 2210 660.4 2211.1 661.4 2212.3 662.6 2213.4 663.5 2214.5 664.6 2215.6 665.7 2217 667 2218.2 668.2 2219.5 669.4 2220.7 670.5 2221.8 671.4 2223 672.5 2224.3 673.3 2225.5 673.9 2226.9 674.6 2228.3 675 2229.8 674.9 2231.4 674.7 2232.9 674.4 2234.5 674.1 2236.1 673.9 2237.7 673.5 2239.3 673.7 2240.9 674 2242.2 674.5 2243.4 675.1 2244.6 675.8 2245.8 676.6 2247 677.3 2248.2 678.2 2249.5 679.3 2250.8 680.2 2252.1 681.4 2253.5 682.7 2255 683.9 2256.1 684.9 2257.2 685.7 2258.4 687 2259.6 687.8 2260.8 689.1 2262.1 690.3 2263.3 691.4 2264.6 692.5 2265.9 693.9 2267.2 695.1 2268.5 696.3 2269.8 697.6 2271 698.7 2272.2 700 2273.4 701.1 2274.6 702 2275.9 703.4 2277.2 704.5 2278.5 705.8 2279.7 707.1 2281 708.2 2282.3 709.4 2283.5 710.5 2284.7 711.7 2285.9 712.8 2287.1 714 2288.2 714.9 2289.3 715.8 2290.4 716.9 2291.5 717.7 2293.1 718.9 2294.5 720.1 2295.8 721.1 2297.1 722.1 2298.4 723 2299.7 723.6 2301.1 724.1 2302.6 724.4 2304.2 724.5 2305.6 724.5 2307 724.3 2308.6 723.8 2310.2 723.2 2311.9 722.6 2313.6 721.7 2315.2 720.9 2316.8 720.1 2318.4 719.6 2319.9 718.8 2321.2 718.6 2322.4 718.1 2324.4 718.1 2326.1 718.3 2327.5 718.9 2328.7 719.4 2329.8 719.9 2330.9 720.3 2332.4 720.7 2333.8 721.1 2334.9 721.6 2336 721.9 2337.4 722.1 2338.7 722.3 2339.6 723 2340 724.2 2340.1 725.8 2340.2 726.9"/>
<path class="cv" stroke="#843c0c" d="M201.5 425L202.4 425 203.3 425 204.3 424.9 205.3 425 206.4 425 207.6 423.3 208.7 424.8 210 424.9 211.3 424.9 212.6 426.3 214 425.1 215.4 425 216.8 425 218.3 424.9 219.9 425.9 221.4 425 223 424.8 224.7 424.9 226.3 424.9 228 424.8 229.8 424.9 231.5 424.8 233.3 424.8 235.1 424.9 237 424.9 238.8 424.8 240.7 424.7 242.6 424.8 244.6 424.7 246.5 424.7 248.5 424.8 250.4 425.9 252.4 424.7 254.4 423.2 256.4 424.7 258.5 424.8 260.5 424.8 262.5 424.6 264.6 425.9 266.6 424.6 268.7 424.5 270.7 424.6 272.8 424.5 274.9 424.4 276.9 424.4 279 424.5 281 424.3 282.4 424.4 283.9 423.1 285.4 424.3 286.9 424.3 288.5 425.1 290.1 424.2 291.7 424.2 293.3 424.2 294.9 423.1 296.6 424 298.3 424 300 424.7 301.7 423.9 303.4 423.9 305.1 425.2 306.9 423.7 308.7 423.7 310.5 423.7 312.3 423.5 314.1 423.6 315.9 423.3 317.7 423.3 319.5 424.6 321.4 423.2 323.2 423.1 325.1 423.1 326.9 423 328.8 423 330.6 422.9 332.5 422.8 334.4 422.7 336.2 422.7 338.1 422.7 339.9 422.6 341.8 422.6 343.6 422.6 345.5 422.6 347.3 422.3 349.1 422.3 350.9 422.2 352.8 422.1 354.6 422.1 356.3 422.1 358.1 421.2 359.9 422.1 361.6 421.9 363.4 422 365.1 422 366.8 421.9 368.5 420.5 370.1 421.7 371.8 421.6 373.4 421.6 375 421.6 376.6 421.7 378.1 421.6 379.7 421.7 381.2 421.7 382.6 421.7 384.1 421.7 385.5 421.5 386.9 421.6 388.3 422.7 389.6 421.6 390.9 421.5 392.2 421.5 393.4 421.6 396.1 421.7 398.6 421.8 401 423 403.3 421.9 405.4 422 407.5 422 409.5 422.1 411.4 422.3 413.2 422.3 414.9 421.3 416.6 422.5 418.2 423.9 419.8 423 421.3 423.2 422.7 423.2 424.2 423.5 425.6 423.6 426.9 423.9 428.3 424.1 429.6 424.3 431 424.3 432.3 424.6 433.7 425 435 425.1 436.4 425.3 437.9 425.7 439.3 425.8 440.8 426 442.4 426.4 444 426.5 445.7 426.8 447.4 427.2 449.1 427.4 450.8 427.8 452.5 428.2 454.2 430.1 455.9 428.7 457.5 429.1 459.2 429.5 460.9 429.7 462.6 430.2 464.3 429.6 465.9 430.8 467.6 431.2 469.3 431.6 470.9 432.1 472.6 432.5 474.2 432.9 475.8 433.3 477.5 433.7 479.1 434.1 480.7 434.5 482.3 435.8 483.9 435.1 485.5 435.5 487.1 435.8 488.7 436.4 490.2 436.6 491.8 437.1 493.5 437.3 495.2 437.8 496.8 438.3 498.4 438.4 499.9 438.8 501.4 439.4 502.9 439.8 504.4 440.1 505.9 442.2 507.4 440.8 508.8 441.2 510.3 441.6 511.8 442 513.3 442.3 514.8 442.9 516.3 443.2 517.9 443.5 519.4 444 521.1 444.2 522.8 444.6 524.5 445 526.3 445.4 528.1 447.4 530 446.1 532 446.5 534 446.8 535.4 447.2 536.8 445.8 538.2 447.7 539.7 449.6 541.2 448.3 542.8 448.4 544.4 448.7 546 449 547.6 449.3 549.3 449.5 550.9 449.8 552.6 450 554.3 450.2 556.1 450.6 557.8 452.1 559.6 451.1 561.3 451.5 563.1 450.8 564.9 451.9 566.6 452.2 568.4 452.5 570.2 453.8 572 453.2 573.8 453.4 575.5 453.5 577.3 453.8 579 454 580.8 454.3 582.5 454.4 584.2 454.7 585.9 454.8 587.6 454.2 589.2 455.3 590.9 455.4 592.5 455.7 594 456 595.6 456.2 597.1 456.1 598.6 456.3 600 456.5 601.9 456.6 603.8 456.8 605.6 456.9 607.3 457.1 609 457.2 610.6 459 612.2 457.5 613.8 457.8 615.3 457.7 616.8 457 618.3 458 619.8 458.1 621.3 458.1 622.7 458.1 624.2 458.2 625.7 458.1 627.1 458.1 628.6 458.3 630.2 458.1 631.7 458.1 633.3 458.2 634.9 458 636.6 456.9 638.3 458.1 640.1 458 641.9 457 643.8 457.8 645.8 459.1 647.8 457.6 649.2 457.5 650.6 457.2 652.1 457.1 653.5 456.2 655 456.9 656.6 458.1 658.1 456.7 659.7 456.4 661.3 455.5 662.9 456.2 664.5 455.9 666.2 455.7 667.9 455.5 669.5 455.5 671.2 455.2 673 455.1 674.7 454.8 676.4 456.1 678.2 454.3 679.9 454.1 681.7 454 683.4 453.6 685.2 453.3 686.9 453.2 688.7 453 690.5 452.7 692.2 451.5 694 452.2 695.8 450.8 697.5 450.5 699.3 451.5 701 451.5 702.7 451.1 704.5 451 706.2 450.8 707.9 450.4 709.5 450.3 711.2 450.1 712.9 450 714.5 449.8 716.1 449.4 717.7 449.3 719.3 449.3 720.8 449.1 722.6 449.8 724.5 448.7 726.3 448.4 728.1 448.1 730 448.1 731.8 448 733.7 447.8 735.5 447.6 737.4 447.3 739.2 447 741.1 447 742.9 446.8 744.7 446.6 746.5 445 748.3 446.2 750.1 446.1 751.9 445.9 753.7 445.9 755.4 445.6 757.2 445.6 758.9 445.3 760.6 445.2 762.2 445.1 763.9 445 765.5 444.8 767.1 444.7 768.7 444.5 770.2 444.5 771.8 444.2 773.3 444.1 774.7 442.7 776.1 443.9 777.5 443.7 778.9 443.6 780.2 443.5 781.5 443.5 782.7 443.4 785.3 443.2 787.6 443 789.9 442.8 791.9 442.7 793.9 442.5 795.7 442.5 797.4 442.4 799 442.2 800.5 442.2 801.9 442.2 803.3 442.2 804.6 442.2 805.9 442 807.1 442 808.3 442.1 809.6 442.2 810.8 442.4 813 442.6 814.8 442.9 816.4 442 817.8 444.1 819.1 446 820.3 445.1 821.7 445.8 823.1 446.4 824.8 447.1 826.2 445.9 827.6 448.1 829.1 448.7 830.6 449.3 832.1 450 833.7 450.7 835.3 451.2 836.8 451.7 838.4 452.2 840 452.4 841.6 452.7 843.1 452.7 844.6 452.6 846.1 452.2 847.6 451.8 849 451.2 850.5 449.2 852 449.8 853.5 449.1 855 448.2 856.5 447.6 858.1 447 859.7 446.6 861.4 447.2 862.9 446 864.5 445.9 866.1 445.8 867.8 446 869.5 446 871.2 446.1 872.9 447.4 874.6 446.3 876.3 446.3 878 446.4 879.6 446.4 881.1 448 882.5 446.3 883.9 446.3 885.5 444.2 886.8 445.2 887.9 444.6 888.9 444.1 889.8 443.5 890.9 442.7 892.1 441.9 893.6 441.1 895.5 440.5 897.9 440 899 439.7 900.1 441.2 901.1 439.5 902.2 439.2 903.2 439.1 904.3 438.8 905.3 438.7 906.4 437.4 907.6 438.4 908.8 438.2 910.1 438 911.4 438 912.9 437.8 914.4 437.8 916.1 437.7 917.8 437.4 919.7 437.4 921.7 437.2 923.9 437 926.2 436.7 928.7 436.7 931.4 436.5 934.2 436.3 937.3 436.2 938.4 436 939.6 435.9 940.8 435.8 942.1 435.8 943.4 435.6 944.7 435.8 946 435.6 947.3 435.5 948.7 435.4 950.1 435.3 951.6 436.2 953 435.2 954.5 435 956 435.1 957.5 434.9 959.1 434.8 960.7 434.7 962.3 434.8 963.9 434.5 965.5 434.4 967.1 434.4 968.8 434.3 970.5 434.2 972.2 434.2 973.9 432.4 975.6 433.8 977.4 432.5 979.1 433.8 980.9 433.6 982.6 433.5 984.4 433.5 986.2 433.3 988 433.3 989.9 433.1 991.7 433.2 993.5 433 995.3 433 997.2 432.7 999 434.1 1000.9 432.7 1002.7 432.5 1004.6 432.4 1006.4 432.5 1008.3 432.3 1010.2 432.2 1012 432.1 1013.9 432 1015.7 432 1017.6 431.9 1019.4 431.7 1021.3 431.7 1023.1 431.7 1025 431.5 1026.8 430.4 1028.6 431.3 1030.4 431.2 1032.2 431.3 1034 429.8 1035.8 429.7 1037.6 431 1039.4 430.9 1041.1 430.7 1042.9 430.7 1044.6 430.7 1046.3 430.7 1048 430.5 1049.7 430.6 1051.4 431.9 1053.1 430.5 1054.8 430.3 1056.5 430.3 1058.3 430.3 1060 430.1 1061.8 429.2 1063.6 429.9 1065.4 429.9 1067.2 429.9 1069 429.8 1070.8 429.7 1072.6 429.8 1074.5 428.7 1076.3 429.6 1078.1 428.7 1080 429.5 1081.8 429.5 1083.7 429.4 1085.6 429.4 1087.4 429.3 1089.3 429.1 1091.1 427.6 1093 429 1094.9 429 1096.7 428.9 1098.6 429 1100.4 428.9 1102.3 428.8 1104.1 428.8 1105.9 428.7 1107.8 428.6 1109.6 428.7 1111.4 428.6 1113.2 428.5 1115 428.5 1116.8 428.5 1118.6 427 1120.3 426.9 1122.1 427.1 1123.8 428.3 1125.5 428.2 1127.3 428.1 1129 427.3 1130.6 427.2 1132.3 429.7 1133.9 429.1 1135.6 427.9 1137.2 427.8 1138.8 427.8 1140.3 426.3 1141.9 427.8 1143.4 427.9 1144.9 427.8 1146.4 427.8 1147.8 427.8 1149.3 426.7 1150.7 427.7 1152 427.6 1153.4 426.7 1154.7 427.5 1156 427.4 1157.3 427.5 1158.5 427.5 1159.7 427.5 1160.9 427.5 1162 427.3 1165.1 427.3 1168 427.4 1170.7 427.3 1173.1 427.3 1175.4 427.3 1177.5 427.3 1179.4 427.4 1181.1 427.4 1182.7 427.5 1184.2 427.5 1185.6 427.6 1186.9 427.6 1188.2 427.6 1189.3 427.6 1190.5 426.5 1191.6 427.7 1192.7 427.7 1193.8 427.7 1194.9 427.8 1196.1 427.8 1197.3 427.7 1198.6 427.7 1200 427.6 1201.9 427.4 1203.7 427.3 1205.5 425.9 1207.2 425.8 1208.9 426.8 1210.5 426.6 1212.1 426.2 1213.7 426 1215.2 425.7 1216.8 425.3 1218.3 425 1219.8 424.7 1221.3 424.6 1222.9 424.4 1224.4 424.1 1226 423.8 1227.6 423.6 1229.3 423.1 1231 423 1232.7 422.8 1234.5 422.4 1236.3 422.1 1238.1 422 1239.9 421.6 1241.7 421.3 1243.5 421.1 1245.2 421 1246.9 418.9 1248.5 420.4 1250 420.1 1251.5 419.8 1252.8 419.6 1254.1 418.2 1255.2 419.3 1258.1 418.6 1259.9 418.4 1261.1 417.9 1262.1 417.7 1263.5 417.8 1264.9 418 1266.2 418.8 1267.5 419.5 1268.8 420.3 1270.3 420.9 1271.8 420.8 1273.1 420.6 1274.4 420.3 1275.9 419.6 1277.4 418.8 1278.8 418 1280.3 417.2 1281.6 416.4 1282.8 415.8 1284.5 414.9 1286 414.2 1287.4 413.5 1288.7 411.2 1290 412.2 1291.4 410.9 1292.8 411.2 1294 411.1 1295.2 411.3 1296.4 411.5 1297.5 412.2 1298.6 414.3 1300 412.2 1301.3 414.1 1302.7 414.6 1304.3 415.3 1305.9 416 1307.6 416.8 1308.8 417.5 1310.1 418.1 1311.4 419 1312.7 421.2 1314.2 420.5 1315.7 421.1 1317.3 421.3 1318.6 421.6 1320 421.5 1321.3 421.6 1322.8 421.5 1324.3 421.4 1325.8 421.2 1327.5 420.9 1329.2 420.8 1331.1 420.7 1332.5 419.6 1334 420.5 1335.7 420.4 1337.4 419.2 1339.1 420.3 1340.9 420.3 1342.7 420.1 1344.4 419.9 1346.1 420 1347.7 419.8 1349.2 419.7 1350.6 419.5 1351.8 419.2 1353.9 418.8 1355.6 418.4 1356.8 417.7 1357.9 417.2 1358.9 416.6 1360 416 1361.6 415.1 1363 414.2 1364.3 413.3 1365.6 412.7 1367 412.5 1368.4 412.7 1369.7 412.6 1371 413 1372.6 413.9 1374 414.9 1375.2 414.9 1375.9 414 1376.4 412.2 1376.9 410.6 1377.5 409.5 1378.9 409.4 1380.5 410.4 1381.5 411.2 1382.6 412.1 1383.8 413.2 1385 413.9 1386.3 414.6 1387.6 415.4 1388.9 415.8 1390.4 415.9 1391.7 415.7 1393 415.2 1394.4 414.7 1395.7 413.9 1397 413.5 1398.5 413.1 1400 414.5 1401.4 411.3 1402.8 412.7 1404.2 412.6 1405.6 412.7 1406.9 412.9 1408 413.2 1408.9 413.7 1409.7 415.1 1411.1 415.3 1412 414.3 1412.9 417.5 1413.9 416.8 1415 417.5 1416.5 418.2 1418.4 418.8 1420.8 419.2 1422 419.6 1423.2 418.2 1424.6 419.9 1426.1 420 1427.6 420.2 1429.2 420.2 1430.9 420.3 1432.6 420.6 1434.4 420.5 1436.1 420.9 1437.9 422 1439.7 421.1 1441.5 421 1443.3 421.1 1445 421.3 1446.7 421.4 1448.4 421.5 1450 421.4 1451.7 421.6 1453.3 421.7 1455 422.6 1456.6 421.7 1458.3 421.6 1459.9 421.8 1461.6 421.9 1463.2 421.8 1464.9 421.8 1466.5 421.8 1468.1 421.8 1469.8 421.8 1471.3 421.8 1472.9 421.8 1474.5 423.1 1476 421.9 1477.7 421.7 1479.5 421.9 1481.2 421.7 1482.9 421.8 1484.6 421.7 1486.3 421.7 1488 420.3 1489.7 421.6 1491.3 421.5 1492.9 421.4 1494.4 421.5 1495.9 421.4 1497.3 421.4 1498.7 421.3 1500 421.4 1502 421.4 1503.8 421.5 1505.5 421.6 1507 421.6 1508.4 421.6 1509.8 421.8 1511.1 422 1512.4 422.1 1513.8 422.1 1515.5 422.3 1517.2 422.1 1518.8 422.1 1520.3 422.3 1521.8 422.3 1523.3 423.8 1524.8 422.8 1526.3 423.2 1527.7 423.7 1529.2 424.1 1530.6 424.7 1532 425.5 1533.3 427.2 1534.5 426.9 1535.8 427.9 1537 429.1 1538.1 429 1539.2 431.4 1540.3 433.7 1541.4 433.8 1542.5 434.9 1543.6 436.2 1544.7 437.5 1545.8 437.9 1547 439.9 1548.3 440.7 1549.7 441.2 1551.2 441.6 1552.7 441.8 1554.4 442 1556.1 442.1 1558 442.2 1559.4 442.1 1560.9 442 1562.6 442 1564.2 441.9 1565.9 441.8 1567.6 442.9 1569.1 440.2 1570.5 441.8 1571.8 442.1 1573.3 442.8 1574.6 443.4 1575.7 444.4 1576.7 445.4 1577.6 446.6 1578.7 447.6 1579.9 448.8 1581.1 449.8 1582.2 451 1583.4 452.1 1584.5 453.3 1585.6 455.9 1586.6 455.9 1587.5 457.2 1588.4 458.6 1589.3 460 1590.2 461.4 1591.1 462.8 1592 464.1 1592.9 465.1 1593.8 466.3 1594.7 467.3 1595.6 468.5 1596.6 469.6 1597.7 470.9 1598.8 472.1 1600 473.2 1601.1 474.3 1602.3 475.4 1603.5 476.6 1604.7 477.8 1605.8 479 1607 481.9 1608.1 481.4 1609.2 482.6 1610.4 483.4 1611.7 484.4 1613 485.2 1614.3 485.7 1615.7 486.2 1617.3 486.6 1618.8 486.7 1620.5 486.9 1622.2 485.8 1624 486.8 1625.6 486.8 1627 486.2 1628.4 485.6 1629.5 484.5 1630.5 483.4 1631.5 482.2 1632.5 480.6 1633.4 479.4 1634.3 479.2 1635.2 476.7 1636.2 475.3 1637.1 473.9 1638 472.5 1638.9 471.1 1639.8 470.6 1640.7 468.3 1641.6 466.7 1642.5 465.5 1643.5 465.1 1644.6 463 1645.6 462 1646.8 459.7 1647.9 460.1 1649.2 459.5 1650.4 459.6 1651.7 458 1653.1 457.5 1654.6 457.1 1656 456.6 1657.4 456.2 1658.7 456 1660.1 455.4 1661.5 455.1 1662.8 454.7 1664.2 454.5 1665.6 454.2 1667.2 454.1 1668.8 453.8 1670.5 453.7 1672.2 453.7 1673.9 453.7 1675.6 454.1 1677.2 454.7 1678.9 456.6 1680.5 455.5 1682.1 455.2 1683.3 454.6 1684.5 453.7 1685.6 452.5 1686.7 451.2 1687.9 450.1 1689 448.9 1690.4 447.9 1691.8 446.6 1693.1 445.7 1694.5 444.8 1695.9 444.3 1697.3 444.1 1698.7 445 1700 444.6 1701.4 445.4 1702.8 446.1 1703.8 448.7 1704.8 448.2 1705.8 449.4 1706.8 449.4 1707.8 452.1 1708.8 453.6 1709.7 454.6 1710.9 455.6 1711.9 456.7 1712.9 457.3 1714 457.2 1715.3 458.7 1716.7 459.1 1718.3 459.6 1719.9 458.7 1721.6 459 1723.5 460.8 1724.9 459.9 1726.4 459.9 1728 458.7 1729.6 459.3 1731.2 459 1732.9 458.9 1734.6 458.6 1736.1 458.7 1737.7 458.5 1739.3 458.7 1741 458.5 1742.6 458.6 1744.2 458.6 1745.6 458.7 1747 458.8 1748.6 459.1 1750.1 459.4 1751.5 460 1752.8 460.4 1754 460.9 1755.3 461.4 1756.8 462.3 1758.2 463 1759.5 463.9 1760.8 464.8 1762.2 465.5 1763.5 466.1 1764.7 466.5 1765.9 467 1767.4 467 1769.1 467.2 1770.4 467.3 1771.9 467 1773.6 466.6 1775.3 466.5 1777 466.2 1778.7 466 1780.2 466.1 1781.5 464.8 1783 466.6 1784.3 467.3 1785.4 468.3 1786.5 469.3 1787.4 470.5 1788.4 469.9 1789.2 472.8 1789.9 474.3 1790.6 475.5 1791.2 477 1791.8 477.1 1792.4 480 1793 481 1793.8 483 1794.4 484.7 1795.2 485.9 1796.9 485.7 1797.7 485.2 1798.7 484.3 1799.8 483.3 1801 481.9 1802.3 480.6 1803.6 479 1805 477.5 1806.3 476.2 1807.6 474.6 1808.8 473.5 1809.9 473.5 1810.9 471.7 1812.4 470.7 1813.5 471.6 1814.4 469.7 1815.5 469.6 1817 471.4 1819.3 470.4 1820.4 470.6 1821.7 470.8 1823.1 471.4 1824.6 471.8 1826.2 472.5 1827.9 473 1829.7 473.7 1831.4 474.4 1833.2 475 1835 475.7 1836.7 476.2 1838.5 476.8 1840.1 477 1841.7 477.5 1843.2 477.8 1844.6 478 1846.5 477.9 1848.2 477.7 1849.8 477.3 1851.4 476.9 1852.8 476.3 1854.3 476.6 1855.7 475 1857.1 474.3 1858.5 473.6 1860 472.9 1861.5 472.5 1863 472 1864.6 471.4 1866.2 470.9 1867.8 471.7 1869.3 469.7 1870.9 469.1 1872.5 469.8 1874 468.2 1875.5 467.8 1877 467.7 1878.4 467.5 1880.1 467.5 1881.7 468 1883.3 468.5 1884.8 469.2 1886.3 471.5 1887.8 470.8 1889.3 471.5 1890.9 472 1892.4 473.4 1894 471 1895.6 472.7 1897.2 472.4 1898.8 472.3 1900.4 472.2 1902 471.9 1903.6 471.9 1905.1 472.1 1906.5 472.6 1907.9 474.3 1909.1 473.9 1910.3 474.9 1911.5 475.8 1912.7 476.8 1913.9 478 1915.1 479.1 1916.3 480.3 1917.7 481.5 1918.9 482.4 1920.1 483.4 1921.4 484.2 1922.7 485.1 1924.1 485.9 1925.4 487 1926.8 488 1928.1 489 1929.4 490.2 1930.6 491.4 1931.8 494.3 1932.7 493.8 1933.5 495.3 1934.3 495.2 1935.1 498.1 1935.9 499.5 1936.7 501.2 1937.4 502.7 1938.1 504.4 1938.9 506 1939.7 507.3 1940.5 508.7 1941.3 510.1 1942.1 511.4 1943 512.4 1944.3 513.6 1945.6 514.7 1947 515.8 1948.4 516.6 1949.9 517.4 1951.3 518 1952.8 518.7 1954.2 519.3 1955.7 519.2 1957.1 520.8 1958.5 521.8 1960 522.8 1961.5 523.7 1963 524.6 1964.5 525.6 1965.9 526.6 1967.3 527.5 1968.7 528.1 1969.9 528.8 1971.1 530.7 1973 529.9 1974.6 530.5 1976 530.4 1977.5 529.9 1979.5 529.6 1980.4 528 1981.4 527.1 1982.4 526 1983.5 524.9 1984.6 523.7 1985.8 522.5 1987 521 1988.1 519.5 1989.3 518.2 1990.4 516.8 1991.5 515.2 1992.6 513.8 1993.6 513.5 1994.5 511.1 1995.3 509.8 1996.1 508.3 1996.9 506.8 1997.7 504.5 1998.5 504 1999.2 502.4 1999.9 501.1 2000.7 500.5 2001.5 498.1 2002.3 495.7 2003.1 495.4 2003.9 494 2004.8 492.8 2005.8 491.4 2006.9 491.6 2008 488.6 2009.1 487.2 2010.3 486.9 2011.4 484.6 2012.6 483.5 2013.8 482.2 2014.9 481.1 2016 481.6 2017 480.1 2018 478.1 2018.9 479 2020.5 474.4 2021.7 476.6 2022.8 474.5 2023.9 473.9 2025.3 473.5 2027.3 473.2 2028.5 472.7 2029.9 471.7 2031.3 472.4 2032.8 472.1 2034.4 471.8 2036.1 471.5 2037.8 471.3 2039.6 471.1 2041.4 470.8 2043.3 470.4 2045.1 470.1 2047 469.7 2048.5 469.3 2050 468.9 2051.6 468.6 2053.3 468 2055 467.5 2056.7 468.5 2058.4 466.5 2060.2 466 2061.9 463.8 2063.6 464.8 2065.2 464.5 2066.8 464.1 2068.3 463.8 2069.8 463.4 2071.1 461.9 2072.3 463.1 2074.3 463.4 2075.9 464 2077.2 463.8 2078.2 465.7 2079.3 466.8 2080.4 467.7 2081.8 468.4 2083.5 468.9 2084.9 469 2086.4 469.1 2088.1 468.9 2089.9 468.9 2091.7 468.6 2093.5 468.5 2095.4 468.3 2097.2 468.1 2098.9 468 2100.5 467.9 2101.9 468.1 2103.2 468.3 2105 468.9 2106.5 469.7 2107.8 470.8 2108.9 471.8 2109.8 473.1 2110.7 474.4 2111.6 475.9 2112.3 477.4 2112.8 479.2 2113.1 481 2113.5 483 2113.9 484.9 2114.3 486.5 2115 488.6 2115.9 488.5 2116.9 489.9 2118.1 488.4 2119.4 487.8 2120.9 487.2 2122.3 486.1 2123.9 485.1 2125.4 484.3 2127 483.6 2128.5 483 2130 482.4 2131.5 482.2 2133.1 481.6 2134.6 481.4 2136.2 481 2137.8 480.7 2139.4 480.7 2140.9 480.6 2142.5 480.6 2144 480.9 2145.6 482.6 2147.1 481.6 2148.6 482.1 2150.1 482.8 2151.7 483.5 2153.3 484.2 2154.9 484.9 2156.6 485.8 2157.9 486.3 2159.3 487.2 2160.8 488 2162.2 490.2 2163.7 489.5 2165.2 490.4 2166.7 491.3 2168.2 492.3 2169.6 493.1 2171 494 2172.3 494.9 2173.5 495.5 2175 496.5 2176.3 497.5 2177.4 498.6 2178.6 499.6 2179.6 500.6 2180.8 501.4 2181.9 502.3 2183.2 503.1 2184.7 504 2186 504.7 2187.5 505.3 2189 505.9 2190.5 505.6 2192.2 506.9 2193.8 507.6 2195.4 508.2 2197 508.7 2198.6 509.3 2200.2 509.7 2201.6 508.7 2203.3 510.7 2204.9 511.4 2206.5 511.9 2208 512.5 2209.5 511.6 2211 513.5 2212.5 514 2214.1 514.6 2215.6 515.2 2217.2 515.8 2218.7 516.6 2220.3 517.3 2221.9 517.9 2223.4 517.1 2225 518 2226.6 519.9 2228.1 520.4 2229.7 520.8 2231.3 521.2 2232.8 521.2 2234.4 521.2 2235.9 521.4 2237.5 521.3 2239 521.3 2240.6 521.3 2242.1 520.2 2243.7 521.4 2245.3 521.7 2246.9 521.8 2248.6 522.1 2250.3 521.6 2251.9 522.8 2253.5 523.2 2255 523.9 2256.5 522.8 2257.8 525.1 2259.1 526 2260.3 527.2 2261.4 528.6 2262.4 529.9 2263.3 531.2 2264.2 532.4 2265.2 534.9 2266.2 535 2267.4 536.1 2268.4 537.4 2269.5 538.6 2270.6 539.5 2271.8 540.3 2273.1 541 2274.6 541.1 2275.8 540.8 2277.1 540.6 2278.5 539.9 2280 539.1 2281.5 538.2 2283 537.3 2284.5 536.4 2286 535.5 2287.4 535 2288.7 534.4 2290.5 533.7 2292.2 533.2 2293.9 531.6 2295.5 532.7 2297.1 532.5 2298.5 533.5 2299.9 531.4 2301.3 530.5 2302.5 529.1 2303.5 527.7 2304.6 526.3 2305.7 527.1 2307 526.2 2308.1 524 2309.3 526.4 2310.5 526 2311.8 527.7 2313.1 530.2 2314.4 530.2 2315.6 532.1 2316.8 532 2317.8 531.2 2318.9 529.8 2319.9 527.8 2320.9 525.5 2321.9 523.2 2322.9 521.3 2323.7 519.8 2324.5 520.2 2325.2 519.4 2325.5 520.1 2325.7 521.2 2325.9 522.6 2326.1 523.1 2326.3 526 2326.4 528.1 2326.5 530.4 2326.6 532.6 2326.7 536.3 2326.8 537.3 2326.9 539.6 2327 541.5 2327.1 543.5 2327.2 545.3 2327.3 546.7 2327.5 549.4 2327.7 548.6 2328 549.1 2328.3 547.7 2328.7 549.5 2329.1 546.9 2329.5 543.5 2330 543 2330.4 541 2330.9 538.5 2331.4 535.9 2331.9 533.5 2332.4 531.2 2332.8 529.1 2333.3 527.1 2333.8 525.4 2334.3 524.3 2334.7 523.7 2335.1 523.7 2335.4 525.8 2335.7 523.8 2336 525.8 2336.3 527.1 2336.7 528.7 2337 530.3 2337.3 532.3 2337.6 534.2 2337.9 536.4 2338.2 538.7 2338.5 540.9 2338.8 543 2339 545.4 2339.3 547.4 2339.6 550.5 2339.8 551.6 2340 553.4 2340.2 555.1 2340.4 556.6 2340.6 557.8 2340.7 558.8"/>
</g>
<g class="ds">
<path d="M443.5 112.4L455.5 1143.6"/>
<path d="M719.8 102L733.2 1135"/>
<path d="M1609.6 129.8L1621.5 1163"/>
<path stroke="#4472c4" d="M1997.4 207.1V1239.3"/>
<path stroke-dasharray="17.5 11.64" d="M2146.8 201.3L2128.8 1209.8"/>
<path d="M2241.5 519.4L2247.6 1178.8"/>
</g>
<g class="an">
<text transform="matrix(0.5767 0 0 0.6225 548.2 164.5)">O-H</text>
<text transform="matrix(0.5405 0 0 0.6141 1458.2 511.2)">C=O</text>
<text transform="matrix(0.5598 0 0 0.6041 1932.1 196.5)">Si-O</text>
<text transform="matrix(0.5927 0 0 0.6408 2089.8 179.3)">Al-O</text>
<text transform="matrix(0.5756 0 0 0.6197 1551.4 1171.2)">O-H</text>
<text transform="matrix(0.6274 0 0 0.6197 2133.3 1242.3)">Mn-O</text>
</g>
<g>
<rect x="221.2" y="1169.1" width="172.8" height="13.4" rx="4" fill="#7030a0"/>
<text class="lg" transform="matrix(0.7376 0 0 0.6881 402.7 1197.1)">Z</text>
<rect x="221.2" y="1250.9" width="172.8" height="13.4" rx="4" fill="#ed7d31"/>
<text class="lg" transform="matrix(0.6707 0 0 0.6881 405.5 1278.9)">Mn2Z</text>
<rect x="221.2" y="1332.8" width="172.8" height="13.4" rx="4" fill="#ff0000"/>
<text class="lg" transform="matrix(0.6707 0 0 0.6881 405.5 1359.9)">Mn3Z</text>
<rect x="221.2" y="1414.6" width="172.8" height="13.4" rx="4" fill="#00b050"/>
<text class="lg" transform="matrix(0.6707 0 0 0.6881 405.5 1441.4)">Mn4Z</text>
<rect x="221.2" y="1496.4" width="172.8" height="13.4" rx="4" fill="#0070c0"/>
<text class="lg" transform="matrix(0.6562 0 0 0.6881 405.7 1524.1)">Mn</text>
<rect x="221.2" y="1578.2" width="172.8" height="13.4" rx="4" fill="#843c0c"/>
<text class="lg" transform="matrix(0.6782 0 0 0.6881 404.7 1605.8)">HE</text>
</g>
</svg>
</body>
</html>
